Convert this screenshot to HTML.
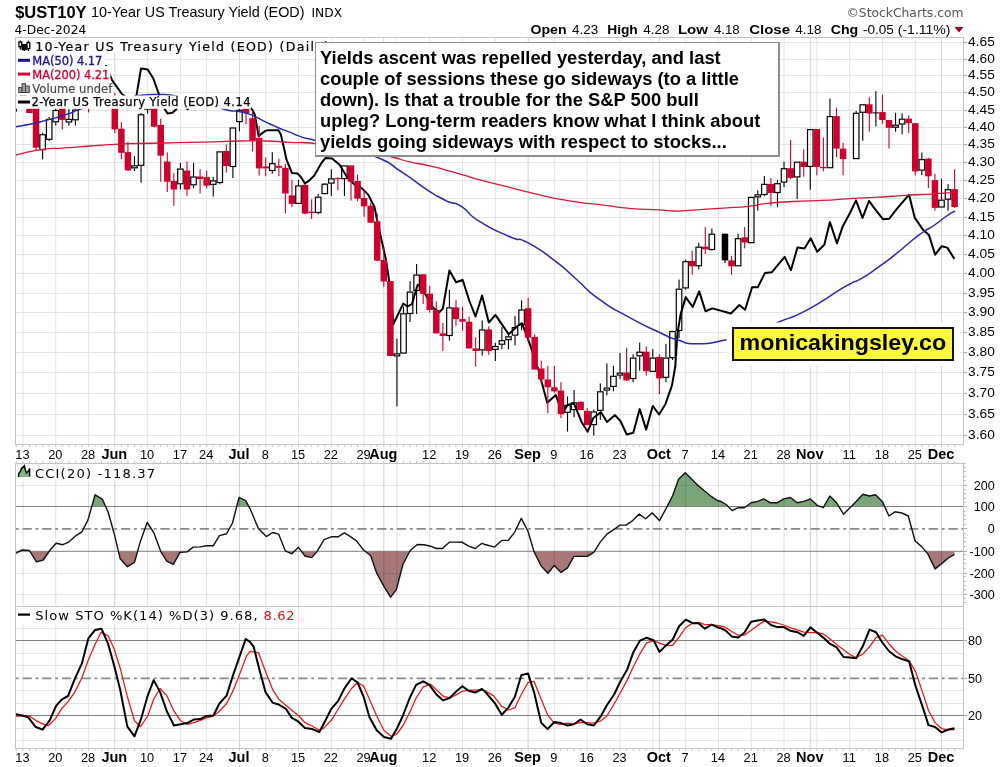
<!DOCTYPE html>
<html><head><meta charset="utf-8"><title>$UST10Y</title>
<style>html,body{margin:0;padding:0;background:#fff;width:1004px;height:767px;overflow:hidden}svg{display:block}</style>
</head><body>
<svg width="1004" height="767" viewBox="0 0 1004 767" shape-rendering="auto">
<defs><clipPath id="mclip"><rect x="16" y="38" width="947" height="406"/></clipPath></defs>
<rect width="1004" height="767" fill="#fff"/>
<text x="15.2" y="17.5" font-family="Liberation Sans, Arial, sans-serif" font-weight="bold" font-size="17.4" textLength="71.4" lengthAdjust="spacingAndGlyphs">$UST10Y</text>
<text x="91" y="16.9" font-family="Liberation Sans, Arial, sans-serif" font-size="15" textLength="213.5" lengthAdjust="spacingAndGlyphs">10-Year US Treasury Yield (EOD)</text>
<text x="311.5" y="17.3" font-family="DejaVu Sans, sans-serif" font-size="11.5" textLength="30.5" lengthAdjust="spacingAndGlyphs">INDX</text>
<text x="14.5" y="34.2" font-family="DejaVu Sans, sans-serif" font-size="12.8" textLength="71.8" lengthAdjust="spacingAndGlyphs">4-Dec-2024</text>
<text x="846.5" y="17.1" font-family="DejaVu Sans, sans-serif" font-size="12.6" fill="#555" textLength="117" lengthAdjust="spacingAndGlyphs">©StockCharts.com</text>
<text x="530.5" y="33.8" font-family="Liberation Sans, Arial, sans-serif" font-size="13.6" font-weight="bold" textLength="36.1" lengthAdjust="spacingAndGlyphs">Open</text>
<text x="572.1" y="33.8" font-family="Liberation Sans, Arial, sans-serif" font-size="13.6" textLength="26.3" lengthAdjust="spacingAndGlyphs">4.23</text>
<text x="607.2" y="33.8" font-family="Liberation Sans, Arial, sans-serif" font-size="13.6" font-weight="bold" textLength="30.6" lengthAdjust="spacingAndGlyphs">High</text>
<text x="643.3" y="33.8" font-family="Liberation Sans, Arial, sans-serif" font-size="13.6" textLength="26.3" lengthAdjust="spacingAndGlyphs">4.28</text>
<text x="677.9" y="33.8" font-family="Liberation Sans, Arial, sans-serif" font-size="13.6" font-weight="bold" textLength="30.1" lengthAdjust="spacingAndGlyphs">Low</text>
<text x="713.9" y="33.8" font-family="Liberation Sans, Arial, sans-serif" font-size="13.6" textLength="25.8" lengthAdjust="spacingAndGlyphs">4.18</text>
<text x="749.2" y="33.8" font-family="Liberation Sans, Arial, sans-serif" font-size="13.6" font-weight="bold" textLength="40.8" lengthAdjust="spacingAndGlyphs">Close</text>
<text x="795.2" y="33.8" font-family="Liberation Sans, Arial, sans-serif" font-size="13.6" textLength="26.3" lengthAdjust="spacingAndGlyphs">4.18</text>
<text x="830.7" y="33.8" font-family="Liberation Sans, Arial, sans-serif" font-size="13.6" font-weight="bold" textLength="27.6" lengthAdjust="spacingAndGlyphs">Chg</text>
<text x="863" y="33.8" font-family="Liberation Sans, Arial, sans-serif" font-size="13.6" textLength="30.8" lengthAdjust="spacingAndGlyphs">-0.05</text>
<text x="897.8" y="33.8" font-family="Liberation Sans, Arial, sans-serif" font-size="13.6" textLength="52.6" lengthAdjust="spacingAndGlyphs">(-1.11%)</text>
<polygon points="954.5,27 963.5,27 959,32.5" fill="#a0001e"/>
<rect x="15.5" y="37.5" width="948" height="407" fill="#fff" stroke="none"/>
<line x1="15" y1="435.5" x2="963" y2="435.5" stroke="#e4e4e4"/>
<line x1="15" y1="414.5" x2="963" y2="414.5" stroke="#e4e4e4"/>
<line x1="15" y1="393.5" x2="963" y2="393.5" stroke="#e4e4e4"/>
<line x1="15" y1="372.5" x2="963" y2="372.5" stroke="#e4e4e4"/>
<line x1="15" y1="352.5" x2="963" y2="352.5" stroke="#e4e4e4"/>
<line x1="15" y1="332.5" x2="963" y2="332.5" stroke="#e4e4e4"/>
<line x1="15" y1="312.5" x2="963" y2="312.5" stroke="#e4e4e4"/>
<line x1="15" y1="293.5" x2="963" y2="293.5" stroke="#e4e4e4"/>
<line x1="15" y1="273.5" x2="963" y2="273.5" stroke="#e4e4e4"/>
<line x1="15" y1="254.5" x2="963" y2="254.5" stroke="#e4e4e4"/>
<line x1="15" y1="235.5" x2="963" y2="235.5" stroke="#e4e4e4"/>
<line x1="15" y1="217.5" x2="963" y2="217.5" stroke="#e4e4e4"/>
<line x1="15" y1="198.5" x2="963" y2="198.5" stroke="#e4e4e4"/>
<line x1="15" y1="180.5" x2="963" y2="180.5" stroke="#e4e4e4"/>
<line x1="15" y1="162.5" x2="963" y2="162.5" stroke="#e4e4e4"/>
<line x1="15" y1="144.5" x2="963" y2="144.5" stroke="#e4e4e4"/>
<line x1="15" y1="127.5" x2="963" y2="127.5" stroke="#e4e4e4"/>
<line x1="15" y1="110.5" x2="963" y2="110.5" stroke="#e4e4e4"/>
<line x1="15" y1="92.5" x2="963" y2="92.5" stroke="#e4e4e4"/>
<line x1="15" y1="75.5" x2="963" y2="75.5" stroke="#e4e4e4"/>
<line x1="15" y1="59.5" x2="963" y2="59.5" stroke="#e4e4e4"/>
<line x1="15" y1="42.5" x2="963" y2="42.5" stroke="#e4e4e4"/>
<line x1="22.95" y1="37" x2="22.95" y2="444" stroke="#e4e4e4"/><line x1="55.75" y1="37" x2="55.75" y2="444" stroke="#e4e4e4"/><line x1="88.56" y1="37" x2="88.56" y2="444" stroke="#e4e4e4"/><line x1="114.8" y1="37" x2="114.8" y2="444" stroke="#d6d6d6"/><line x1="147.61" y1="37" x2="147.61" y2="444" stroke="#e4e4e4"/><line x1="180.41" y1="37" x2="180.41" y2="444" stroke="#e4e4e4"/><line x1="206.66" y1="37" x2="206.66" y2="444" stroke="#e4e4e4"/><line x1="239.46" y1="37" x2="239.46" y2="444" stroke="#d6d6d6"/><line x1="265.71" y1="37" x2="265.71" y2="444" stroke="#e4e4e4"/><line x1="298.51" y1="37" x2="298.51" y2="444" stroke="#e4e4e4"/><line x1="331.32" y1="37" x2="331.32" y2="444" stroke="#e4e4e4"/><line x1="364.12" y1="37" x2="364.12" y2="444" stroke="#e4e4e4"/><line x1="383.81" y1="37" x2="383.81" y2="444" stroke="#d6d6d6"/><line x1="396.93" y1="37" x2="396.93" y2="444" stroke="#e4e4e4"/><line x1="429.73" y1="37" x2="429.73" y2="444" stroke="#e4e4e4"/><line x1="462.54" y1="37" x2="462.54" y2="444" stroke="#e4e4e4"/><line x1="495.34" y1="37" x2="495.34" y2="444" stroke="#e4e4e4"/><line x1="528.15" y1="37" x2="528.15" y2="444" stroke="#d6d6d6"/><line x1="554.39" y1="37" x2="554.39" y2="444" stroke="#e4e4e4"/><line x1="587.2" y1="37" x2="587.2" y2="444" stroke="#e4e4e4"/><line x1="620.0" y1="37" x2="620.0" y2="444" stroke="#e4e4e4"/><line x1="652.81" y1="37" x2="652.81" y2="444" stroke="#e4e4e4"/><line x1="659.37" y1="37" x2="659.37" y2="444" stroke="#d6d6d6"/><line x1="685.61" y1="37" x2="685.61" y2="444" stroke="#e4e4e4"/><line x1="718.42" y1="37" x2="718.42" y2="444" stroke="#e4e4e4"/><line x1="751.22" y1="37" x2="751.22" y2="444" stroke="#e4e4e4"/><line x1="784.03" y1="37" x2="784.03" y2="444" stroke="#e4e4e4"/><line x1="810.27" y1="37" x2="810.27" y2="444" stroke="#d6d6d6"/><line x1="816.83" y1="37" x2="816.83" y2="444" stroke="#e4e4e4"/><line x1="849.64" y1="37" x2="849.64" y2="444" stroke="#e4e4e4"/><line x1="882.44" y1="37" x2="882.44" y2="444" stroke="#e4e4e4"/><line x1="915.25" y1="37" x2="915.25" y2="444" stroke="#e4e4e4"/><line x1="941.49" y1="37" x2="941.49" y2="444" stroke="#d6d6d6"/>
<g clip-path="url(#mclip)">
<polyline points="15.0,88.0 40.0,82.0 60.0,78.0 80.0,72.0 95.0,68.0 106.0,66.0 112.0,80.0 122.0,94.1 130.0,100.0 136.5,95.3 141.0,68.4 147.7,69.5 153.3,78.5 158.9,94.1 160.0,100.0 164.5,108.7 167.5,113.6 172.5,112.8 176.5,109.0 180.0,104.0 185.0,106.5 187.5,109.3 190.0,106.0 200.0,103.0 212.0,100.0 225.0,102.0 240.0,105.0 249.3,106.8 252.4,109.9 254.8,114.8 258.6,135.9 265.4,130.9 267.9,130.3 278.4,130.3 280.9,134.6 284.6,150.7 286.4,159.4 292.0,173.0 297.6,173.6 300.7,176.7 305.0,183.5 309.3,180.4 314.3,175.5 321.7,162.5 325.4,158.1 332.1,158.5 339.6,164.7 347.1,177.2 354.5,184.6 362.0,188.4 368.2,194.6 374.5,207.0 376.8,218.5 380.4,235.0 386.0,260.0 390.5,290.0 393.4,324.0 403.2,303.6 407.5,306.5 412.0,304.0 417.6,284.7 421.0,287.0 433.5,308.2 439.5,312.0 442.8,308.8 449.4,270.5 456.1,282.2 462.7,280.0 469.4,301.0 475.5,316.5 482.1,295.5 488.8,322.6 495.4,314.9 502.6,325.4 508.7,334.3 511.0,332.1 517.6,326.0 522.0,323.2 530.0,344.6 538.6,370.4 547.2,402.7 555.8,395.1 562.3,413.4 567.7,404.8 574.1,403.7 581.6,422.0 587.7,431.7 593.5,417.7 601.0,412.3 607.0,422.0 615.0,415.1 620.4,421.0 626.8,434.5 633.3,432.8 639.7,409.1 646.2,429.6 652.7,405.9 659.1,414.5 665.6,403.7 672.0,385.4 675.3,366.1 677.4,333.8 680.6,314.4 685.7,297.1 692.7,307.0 699.2,291.4 705.5,311.2 712.5,308.4 730.9,313.5 739.4,305.0 745.1,309.8 752.1,287.2 757.8,287.2 764.9,273.1 771.9,272.2 784.7,256.9 790.9,270.2 797.4,247.6 804.5,248.4 810.7,238.3 817.2,251.8 824.3,244.8 829.9,222.1 837.0,243.4 842.7,226.4 849.7,213.6 856.0,200.4 862.5,217.9 869.0,200.9 875.2,209.4 883.1,219.3 889.3,218.7 896.4,209.4 909.1,194.7 914.8,217.9 923.3,230.1 928.9,234.9 935.2,254.7 941.7,246.2 947.3,247.6 954.4,258.9" fill="none" stroke="#000" stroke-width="2" stroke-linejoin="round"/>
<rect x="15.84" y="95" width="1.1" height="5.0" fill="#000"/><rect x="15.84" y="105.0" width="1.1" height="6.7" fill="#000"/><rect x="13.64" y="100.5" width="5.5" height="4.0" fill="none" stroke="#000" stroke-width="1.2"/><rect x="22.40" y="92" width="1.1" height="3.0" fill="#000"/><rect x="22.40" y="105.0" width="1.1" height="3.0" fill="#000"/><rect x="20.20" y="95.5" width="5.5" height="9.0" fill="none" stroke="#000" stroke-width="1.2"/><rect x="28.96" y="98" width="1.1" height="15.0" fill="#cd002d"/><rect x="26.26" y="100" width="6.5" height="13.0" fill="#cd002d"/><rect x="35.52" y="100" width="1.1" height="50.2" fill="#cd002d"/><rect x="32.82" y="104" width="6.5" height="43.6" fill="#cd002d"/><rect x="42.08" y="132.6" width="1.1" height="1.6" fill="#000"/><rect x="42.08" y="150.2" width="1.1" height="9.1" fill="#000"/><rect x="39.88" y="134.7" width="5.5" height="15.0" fill="none" stroke="#000" stroke-width="1.2"/><rect x="48.64" y="117" width="1.1" height="1.9" fill="#000"/><rect x="48.64" y="139.8" width="1.1" height="1.2" fill="#000"/><rect x="46.44" y="119.4" width="5.5" height="19.9" fill="none" stroke="#000" stroke-width="1.2"/><rect x="55.20" y="108" width="1.1" height="2.0" fill="#000"/><rect x="55.20" y="122.3" width="1.1" height="3.2" fill="#000"/><rect x="53.00" y="110.5" width="5.5" height="11.3" fill="none" stroke="#000" stroke-width="1.2"/><rect x="61.77" y="105" width="1.1" height="24.5" fill="#cd002d"/><rect x="59.07" y="108" width="6.5" height="11.9" fill="#cd002d"/><rect x="68.33" y="109.2" width="1.1" height="9.7" fill="#000"/><rect x="68.33" y="122.5" width="1.1" height="3.2" fill="#000"/><rect x="66.13" y="119.4" width="5.5" height="2.6" fill="none" stroke="#000" stroke-width="1.2"/><rect x="74.89" y="106" width="1.1" height="3.6" fill="#000"/><rect x="74.89" y="120.3" width="1.1" height="5.2" fill="#000"/><rect x="72.69" y="110.1" width="5.5" height="9.7" fill="none" stroke="#000" stroke-width="1.2"/><rect x="81.45" y="98" width="1.1" height="2.0" fill="#000"/><rect x="81.45" y="106.0" width="1.1" height="1.0" fill="#000"/><rect x="79.25" y="100.5" width="5.5" height="5.0" fill="none" stroke="#000" stroke-width="1.2"/><rect x="88.01" y="98" width="1.1" height="14.4" fill="#cd002d"/><rect x="85.31" y="100" width="6.5" height="6.0" fill="#cd002d"/><rect x="94.57" y="96" width="1.1" height="2.0" fill="#000"/><rect x="94.57" y="104.0" width="1.1" height="2.0" fill="#000"/><rect x="92.37" y="98.5" width="5.5" height="5.0" fill="none" stroke="#000" stroke-width="1.2"/><rect x="101.13" y="96" width="1.1" height="10.0" fill="#cd002d"/><rect x="98.43" y="98" width="6.5" height="6.0" fill="#cd002d"/><rect x="107.69" y="97" width="1.1" height="10.0" fill="#cd002d"/><rect x="104.99" y="100" width="6.5" height="5.0" fill="#cd002d"/><rect x="114.25" y="93" width="1.1" height="40.2" fill="#cd002d"/><rect x="111.55" y="104" width="6.5" height="25.3" fill="#cd002d"/><rect x="120.81" y="122.1" width="1.1" height="37.2" fill="#cd002d"/><rect x="118.11" y="128.7" width="6.5" height="24.1" fill="#cd002d"/><rect x="127.38" y="141.7" width="1.1" height="29.3" fill="#cd002d"/><rect x="124.68" y="152.1" width="6.5" height="18.3" fill="#cd002d"/><rect x="133.94" y="156" width="1.1" height="9.3" fill="#000"/><rect x="133.94" y="168.3" width="1.1" height="2.7" fill="#000"/><rect x="131.74" y="165.8" width="5.5" height="2.0" fill="none" stroke="#000" stroke-width="1.2"/><rect x="140.50" y="113" width="1.1" height="1.3" fill="#000"/><rect x="140.50" y="165.8" width="1.1" height="16.9" fill="#000"/><rect x="138.30" y="114.8" width="5.5" height="50.5" fill="none" stroke="#000" stroke-width="1.2"/><rect x="147.06" y="98" width="1.1" height="2.0" fill="#000"/><rect x="147.06" y="109.6" width="1.1" height="4.1" fill="#000"/><rect x="144.86" y="100.5" width="5.5" height="8.6" fill="none" stroke="#000" stroke-width="1.2"/><rect x="153.62" y="100" width="1.1" height="27.4" fill="#cd002d"/><rect x="150.92" y="104" width="6.5" height="22.7" fill="#cd002d"/><rect x="160.18" y="118.5" width="1.1" height="63.2" fill="#cd002d"/><rect x="157.48" y="125" width="6.5" height="30.6" fill="#cd002d"/><rect x="166.74" y="152.3" width="1.1" height="39.7" fill="#cd002d"/><rect x="164.04" y="161.5" width="6.5" height="20.2" fill="#cd002d"/><rect x="173.30" y="173.2" width="1.1" height="32.6" fill="#cd002d"/><rect x="170.60" y="181" width="6.5" height="8.5" fill="#cd002d"/><rect x="179.86" y="162.8" width="1.1" height="5.8" fill="#000"/><rect x="179.86" y="184.3" width="1.1" height="5.2" fill="#000"/><rect x="177.66" y="169.1" width="5.5" height="14.7" fill="none" stroke="#000" stroke-width="1.2"/><rect x="186.42" y="161.5" width="1.1" height="34.5" fill="#cd002d"/><rect x="183.72" y="170.6" width="6.5" height="18.9" fill="#cd002d"/><rect x="192.99" y="162.8" width="1.1" height="13.7" fill="#000"/><rect x="192.99" y="185.3" width="1.1" height="2.9" fill="#000"/><rect x="190.79" y="177.0" width="5.5" height="7.8" fill="none" stroke="#000" stroke-width="1.2"/><rect x="199.55" y="169.3" width="1.1" height="24.1" fill="#cd002d"/><rect x="196.85" y="176.5" width="6.5" height="2.5" fill="#cd002d"/><rect x="206.11" y="170.6" width="1.1" height="17.6" fill="#cd002d"/><rect x="203.41" y="177.1" width="6.5" height="8.5" fill="#cd002d"/><rect x="212.67" y="177" width="1.1" height="3.4" fill="#000"/><rect x="212.67" y="184.9" width="1.1" height="11.7" fill="#000"/><rect x="210.47" y="180.9" width="5.5" height="3.5" fill="none" stroke="#000" stroke-width="1.2"/><rect x="219.23" y="183.0" width="1.1" height="1.3" fill="#000"/><rect x="217.03" y="151.9" width="5.5" height="30.6" fill="none" stroke="#000" stroke-width="1.2"/><rect x="225.79" y="144.5" width="1.1" height="28.0" fill="#cd002d"/><rect x="223.09" y="151" width="6.5" height="15.0" fill="#cd002d"/><rect x="232.35" y="127.4" width="1.1" height="0.1" fill="#000"/><rect x="232.35" y="167.0" width="1.1" height="11.0" fill="#000"/><rect x="230.15" y="128.0" width="5.5" height="38.5" fill="none" stroke="#000" stroke-width="1.2"/><rect x="238.91" y="106" width="1.1" height="3.8" fill="#000"/><rect x="238.91" y="122.1" width="1.1" height="9.2" fill="#000"/><rect x="236.71" y="110.3" width="5.5" height="11.3" fill="none" stroke="#000" stroke-width="1.2"/><rect x="245.47" y="104" width="1.1" height="20.1" fill="#cd002d"/><rect x="242.77" y="107" width="6.5" height="6.0" fill="#cd002d"/><rect x="252.03" y="111" width="1.1" height="40.5" fill="#cd002d"/><rect x="249.33" y="118.2" width="6.5" height="22.2" fill="#cd002d"/><rect x="258.60" y="126" width="1.1" height="49.6" fill="#cd002d"/><rect x="255.90" y="137.8" width="6.5" height="30.6" fill="#cd002d"/><rect x="265.16" y="157.3" width="1.1" height="18.9" fill="#cd002d"/><rect x="262.46" y="166.5" width="6.5" height="1.9" fill="#cd002d"/><rect x="271.72" y="152.1" width="1.1" height="11.1" fill="#000"/><rect x="271.72" y="171.0" width="1.1" height="2.6" fill="#000"/><rect x="269.52" y="163.7" width="5.5" height="6.8" fill="none" stroke="#000" stroke-width="1.2"/><rect x="278.28" y="158.6" width="1.1" height="17.6" fill="#cd002d"/><rect x="275.58" y="165.8" width="6.5" height="2.0" fill="#cd002d"/><rect x="284.84" y="163.8" width="1.1" height="49.8" fill="#cd002d"/><rect x="282.14" y="167.8" width="6.5" height="25.7" fill="#cd002d"/><rect x="291.40" y="179.8" width="1.1" height="27.3" fill="#cd002d"/><rect x="288.70" y="195.4" width="6.5" height="8.5" fill="#cd002d"/><rect x="297.96" y="179.8" width="1.1" height="5.6" fill="#000"/><rect x="295.76" y="185.9" width="5.5" height="17.5" fill="none" stroke="#000" stroke-width="1.2"/><rect x="304.52" y="184" width="1.1" height="30.3" fill="#cd002d"/><rect x="301.82" y="185" width="6.5" height="28.6" fill="#cd002d"/><rect x="311.08" y="199.3" width="1.1" height="19.6" fill="#cd002d"/><rect x="308.38" y="211.7" width="6.5" height="1.3" fill="#cd002d"/><rect x="317.64" y="194.1" width="1.1" height="2.6" fill="#000"/><rect x="317.64" y="213.0" width="1.1" height="1.3" fill="#000"/><rect x="315.44" y="197.2" width="5.5" height="15.3" fill="none" stroke="#000" stroke-width="1.2"/><rect x="324.21" y="183" width="1.1" height="0.7" fill="#000"/><rect x="322.01" y="184.2" width="5.5" height="9.4" fill="none" stroke="#000" stroke-width="1.2"/><rect x="330.77" y="169.3" width="1.1" height="9.1" fill="#000"/><rect x="330.77" y="183.6" width="1.1" height="12.4" fill="#000"/><rect x="328.57" y="178.9" width="5.5" height="4.2" fill="none" stroke="#000" stroke-width="1.2"/><rect x="337.33" y="177.1" width="1.1" height="13.1" fill="#cd002d"/><rect x="334.63" y="178" width="6.5" height="1.1" fill="#cd002d"/><rect x="343.89" y="179.1" width="1.1" height="16.9" fill="#000"/><rect x="341.69" y="165.9" width="5.5" height="12.7" fill="none" stroke="#000" stroke-width="1.2"/><rect x="350.45" y="165.4" width="1.1" height="35.2" fill="#cd002d"/><rect x="347.75" y="165.4" width="6.5" height="16.3" fill="#cd002d"/><rect x="357.01" y="174.5" width="1.1" height="26.7" fill="#cd002d"/><rect x="354.31" y="181" width="6.5" height="17.6" fill="#cd002d"/><rect x="363.57" y="190" width="1.1" height="26.9" fill="#cd002d"/><rect x="360.87" y="198" width="6.5" height="8.4" fill="#cd002d"/><rect x="370.13" y="202.5" width="1.1" height="20.2" fill="#cd002d"/><rect x="367.43" y="205.8" width="6.5" height="16.9" fill="#cd002d"/><rect x="376.69" y="213.6" width="1.1" height="47.4" fill="#cd002d"/><rect x="373.99" y="221.4" width="6.5" height="39.2" fill="#cd002d"/><rect x="383.25" y="247" width="1.1" height="39.7" fill="#cd002d"/><rect x="380.56" y="260" width="6.5" height="21.5" fill="#cd002d"/><rect x="389.82" y="281" width="1.1" height="75.0" fill="#cd002d"/><rect x="387.12" y="281" width="6.5" height="75.0" fill="#cd002d"/><rect x="396.38" y="338.7" width="1.1" height="14.7" fill="#000"/><rect x="396.38" y="356.4" width="1.1" height="50.0" fill="#000"/><rect x="394.18" y="353.9" width="5.5" height="2.0" fill="none" stroke="#000" stroke-width="1.2"/><rect x="402.94" y="306.5" width="1.1" height="6.8" fill="#000"/><rect x="400.74" y="313.8" width="5.5" height="39.3" fill="none" stroke="#000" stroke-width="1.2"/><rect x="409.50" y="281.1" width="1.1" height="10.5" fill="#000"/><rect x="409.50" y="314.0" width="1.1" height="8.0" fill="#000"/><rect x="407.30" y="292.1" width="5.5" height="21.4" fill="none" stroke="#000" stroke-width="1.2"/><rect x="416.06" y="264" width="1.1" height="10.6" fill="#000"/><rect x="416.06" y="291.0" width="1.1" height="23.0" fill="#000"/><rect x="413.86" y="275.1" width="5.5" height="15.4" fill="none" stroke="#000" stroke-width="1.2"/><rect x="422.62" y="274.3" width="1.1" height="29.8" fill="#cd002d"/><rect x="419.92" y="274.3" width="6.5" height="19.5" fill="#cd002d"/><rect x="429.18" y="285.9" width="1.1" height="26.7" fill="#cd002d"/><rect x="426.48" y="293.7" width="6.5" height="16.3" fill="#cd002d"/><rect x="435.74" y="301.5" width="1.1" height="31.9" fill="#cd002d"/><rect x="433.04" y="310" width="6.5" height="23.4" fill="#cd002d"/><rect x="442.30" y="323" width="1.1" height="28.0" fill="#cd002d"/><rect x="439.60" y="333.4" width="6.5" height="2.6" fill="#cd002d"/><rect x="448.86" y="289.8" width="1.1" height="17.6" fill="#000"/><rect x="448.86" y="336.0" width="1.1" height="4.6" fill="#000"/><rect x="446.66" y="307.9" width="5.5" height="27.6" fill="none" stroke="#000" stroke-width="1.2"/><rect x="455.43" y="300.2" width="1.1" height="25.4" fill="#cd002d"/><rect x="452.73" y="307.4" width="6.5" height="11.7" fill="#cd002d"/><rect x="461.99" y="306.7" width="1.1" height="24.1" fill="#cd002d"/><rect x="459.29" y="319.1" width="6.5" height="2.6" fill="#cd002d"/><rect x="468.55" y="316.5" width="1.1" height="31.9" fill="#cd002d"/><rect x="465.85" y="321.7" width="6.5" height="26.7" fill="#cd002d"/><rect x="475.11" y="337.3" width="1.1" height="29.3" fill="#cd002d"/><rect x="472.41" y="348.4" width="6.5" height="2.6" fill="#cd002d"/><rect x="481.67" y="320.4" width="1.1" height="9.1" fill="#000"/><rect x="481.67" y="350.4" width="1.1" height="5.2" fill="#000"/><rect x="479.47" y="330.0" width="5.5" height="19.9" fill="none" stroke="#000" stroke-width="1.2"/><rect x="488.23" y="326.3" width="1.1" height="28.6" fill="#cd002d"/><rect x="485.53" y="329.5" width="6.5" height="21.5" fill="#cd002d"/><rect x="494.79" y="342.8" width="1.1" height="3.2" fill="#000"/><rect x="494.79" y="349.9" width="1.1" height="11.1" fill="#000"/><rect x="492.59" y="346.5" width="5.5" height="2.9" fill="none" stroke="#000" stroke-width="1.2"/><rect x="501.35" y="327.1" width="1.1" height="13.1" fill="#000"/><rect x="501.35" y="344.7" width="1.1" height="4.6" fill="#000"/><rect x="499.15" y="340.7" width="5.5" height="3.5" fill="none" stroke="#000" stroke-width="1.2"/><rect x="507.91" y="333" width="1.1" height="3.3" fill="#000"/><rect x="507.91" y="340.2" width="1.1" height="9.1" fill="#000"/><rect x="505.71" y="336.8" width="5.5" height="2.9" fill="none" stroke="#000" stroke-width="1.2"/><rect x="514.48" y="316" width="1.1" height="11.1" fill="#000"/><rect x="514.48" y="335.6" width="1.1" height="9.8" fill="#000"/><rect x="512.27" y="327.6" width="5.5" height="7.5" fill="none" stroke="#000" stroke-width="1.2"/><rect x="521.04" y="300.4" width="1.1" height="9.1" fill="#000"/><rect x="521.04" y="325.2" width="1.1" height="5.2" fill="#000"/><rect x="518.84" y="310.0" width="5.5" height="14.7" fill="none" stroke="#000" stroke-width="1.2"/><rect x="527.60" y="297.8" width="1.1" height="43.7" fill="#cd002d"/><rect x="524.90" y="308.2" width="6.5" height="29.4" fill="#cd002d"/><rect x="534.16" y="334.3" width="1.1" height="35.2" fill="#cd002d"/><rect x="531.46" y="336.9" width="6.5" height="32.6" fill="#cd002d"/><rect x="540.72" y="360.6" width="1.1" height="22.8" fill="#cd002d"/><rect x="538.02" y="368.5" width="6.5" height="11.0" fill="#cd002d"/><rect x="547.28" y="365.8" width="1.1" height="47.6" fill="#cd002d"/><rect x="544.58" y="379.5" width="6.5" height="7.8" fill="#cd002d"/><rect x="553.84" y="365.8" width="1.1" height="26.8" fill="#cd002d"/><rect x="551.14" y="387.3" width="6.5" height="4.0" fill="#cd002d"/><rect x="560.40" y="382.1" width="1.1" height="35.9" fill="#cd002d"/><rect x="557.70" y="390.6" width="6.5" height="23.5" fill="#cd002d"/><rect x="566.96" y="396.5" width="1.1" height="8.4" fill="#000"/><rect x="566.96" y="412.8" width="1.1" height="18.8" fill="#000"/><rect x="564.76" y="405.4" width="5.5" height="6.9" fill="none" stroke="#000" stroke-width="1.2"/><rect x="573.52" y="390" width="1.1" height="12.3" fill="#000"/><rect x="573.52" y="410.1" width="1.1" height="7.2" fill="#000"/><rect x="571.32" y="402.8" width="5.5" height="6.8" fill="none" stroke="#000" stroke-width="1.2"/><rect x="580.09" y="401.7" width="1.1" height="8.4" fill="#cd002d"/><rect x="577.38" y="401.7" width="6.5" height="8.4" fill="#cd002d"/><rect x="586.65" y="408.2" width="1.1" height="16.9" fill="#cd002d"/><rect x="583.95" y="410.8" width="6.5" height="14.3" fill="#cd002d"/><rect x="593.21" y="409.5" width="1.1" height="2.0" fill="#000"/><rect x="593.21" y="425.1" width="1.1" height="10.5" fill="#000"/><rect x="591.01" y="412.0" width="5.5" height="12.6" fill="none" stroke="#000" stroke-width="1.2"/><rect x="599.77" y="383.4" width="1.1" height="7.9" fill="#000"/><rect x="599.77" y="410.8" width="1.1" height="9.1" fill="#000"/><rect x="597.57" y="391.8" width="5.5" height="18.5" fill="none" stroke="#000" stroke-width="1.2"/><rect x="606.33" y="363.4" width="1.1" height="24.2" fill="#000"/><rect x="606.33" y="390.6" width="1.1" height="4.7" fill="#000"/><rect x="604.13" y="388.1" width="5.5" height="2.0" fill="none" stroke="#000" stroke-width="1.2"/><rect x="612.89" y="366" width="1.1" height="9.8" fill="#000"/><rect x="612.89" y="386.9" width="1.1" height="4.5" fill="#000"/><rect x="610.69" y="376.3" width="5.5" height="10.1" fill="none" stroke="#000" stroke-width="1.2"/><rect x="619.45" y="353" width="1.1" height="19.6" fill="#000"/><rect x="619.45" y="375.6" width="1.1" height="3.4" fill="#000"/><rect x="617.25" y="373.1" width="5.5" height="2.0" fill="none" stroke="#000" stroke-width="1.2"/><rect x="626.01" y="347.8" width="1.1" height="33.2" fill="#cd002d"/><rect x="623.31" y="372.5" width="6.5" height="7.9" fill="#cd002d"/><rect x="632.57" y="354.3" width="1.1" height="3.3" fill="#000"/><rect x="632.57" y="379.0" width="1.1" height="3.3" fill="#000"/><rect x="630.37" y="358.1" width="5.5" height="20.4" fill="none" stroke="#000" stroke-width="1.2"/><rect x="639.13" y="342.6" width="1.1" height="9.1" fill="#000"/><rect x="639.13" y="356.3" width="1.1" height="14.3" fill="#000"/><rect x="636.93" y="352.2" width="5.5" height="3.6" fill="none" stroke="#000" stroke-width="1.2"/><rect x="645.70" y="346.5" width="1.1" height="29.3" fill="#cd002d"/><rect x="643.00" y="351.7" width="6.5" height="19.5" fill="#cd002d"/><rect x="652.26" y="349.1" width="1.1" height="8.5" fill="#000"/><rect x="650.06" y="358.1" width="5.5" height="13.3" fill="none" stroke="#000" stroke-width="1.2"/><rect x="658.82" y="354.3" width="1.1" height="39.7" fill="#cd002d"/><rect x="656.12" y="356.9" width="6.5" height="21.5" fill="#cd002d"/><rect x="665.38" y="343.9" width="1.1" height="13.7" fill="#000"/><rect x="665.38" y="377.8" width="1.1" height="4.5" fill="#000"/><rect x="663.18" y="358.1" width="5.5" height="19.2" fill="none" stroke="#000" stroke-width="1.2"/><rect x="671.94" y="330.8" width="1.1" height="0.2" fill="#000"/><rect x="671.94" y="358.2" width="1.1" height="1.8" fill="#000"/><rect x="669.74" y="331.5" width="5.5" height="26.2" fill="none" stroke="#000" stroke-width="1.2"/><rect x="678.50" y="279.5" width="1.1" height="9.2" fill="#000"/><rect x="678.50" y="331.0" width="1.1" height="7.2" fill="#000"/><rect x="676.30" y="289.2" width="5.5" height="41.3" fill="none" stroke="#000" stroke-width="1.2"/><rect x="685.06" y="259.7" width="1.1" height="1.5" fill="#000"/><rect x="685.06" y="288.4" width="1.1" height="1.3" fill="#000"/><rect x="682.86" y="261.7" width="5.5" height="26.2" fill="none" stroke="#000" stroke-width="1.2"/><rect x="691.62" y="250.6" width="1.1" height="24.1" fill="#cd002d"/><rect x="688.92" y="261" width="6.5" height="5.3" fill="#cd002d"/><rect x="698.18" y="242.8" width="1.1" height="3.9" fill="#000"/><rect x="698.18" y="266.3" width="1.1" height="3.2" fill="#000"/><rect x="695.98" y="247.2" width="5.5" height="18.6" fill="none" stroke="#000" stroke-width="1.2"/><rect x="704.74" y="227.2" width="1.1" height="26.7" fill="#cd002d"/><rect x="702.04" y="246.7" width="6.5" height="2.6" fill="#cd002d"/><rect x="711.31" y="228.5" width="1.1" height="5.2" fill="#000"/><rect x="711.31" y="250.0" width="1.1" height="0.6" fill="#000"/><rect x="709.11" y="234.2" width="5.5" height="15.3" fill="none" stroke="#000" stroke-width="1.2"/><rect x="724.43" y="233.7" width="1.1" height="29.3" fill="#000"/><rect x="721.73" y="233.7" width="6.5" height="26.7" fill="#000"/><rect x="730.99" y="255.8" width="1.1" height="18.9" fill="#cd002d"/><rect x="728.29" y="260.4" width="6.5" height="5.9" fill="#cd002d"/><rect x="737.55" y="233.7" width="1.1" height="4.5" fill="#000"/><rect x="735.35" y="238.7" width="5.5" height="27.1" fill="none" stroke="#000" stroke-width="1.2"/><rect x="744.11" y="226.9" width="1.1" height="21.5" fill="#cd002d"/><rect x="741.41" y="237.3" width="6.5" height="5.2" fill="#cd002d"/><rect x="748.47" y="197.4" width="5.5" height="45.3" fill="none" stroke="#000" stroke-width="1.2"/><rect x="757.23" y="190.4" width="1.1" height="4.0" fill="#000"/><rect x="757.23" y="197.4" width="1.1" height="13.2" fill="#000"/><rect x="755.03" y="194.9" width="5.5" height="2.0" fill="none" stroke="#000" stroke-width="1.2"/><rect x="763.79" y="176.1" width="1.1" height="7.8" fill="#000"/><rect x="763.79" y="195.0" width="1.1" height="1.3" fill="#000"/><rect x="761.59" y="184.4" width="5.5" height="10.1" fill="none" stroke="#000" stroke-width="1.2"/><rect x="770.35" y="178" width="1.1" height="28.0" fill="#cd002d"/><rect x="767.65" y="183.9" width="6.5" height="9.1" fill="#cd002d"/><rect x="776.92" y="180" width="1.1" height="3.2" fill="#000"/><rect x="776.92" y="193.0" width="1.1" height="14.3" fill="#000"/><rect x="774.72" y="183.7" width="5.5" height="8.8" fill="none" stroke="#000" stroke-width="1.2"/><rect x="783.48" y="161.7" width="1.1" height="6.5" fill="#000"/><rect x="783.48" y="182.6" width="1.1" height="4.5" fill="#000"/><rect x="781.28" y="168.7" width="5.5" height="13.4" fill="none" stroke="#000" stroke-width="1.2"/><rect x="790.04" y="140" width="1.1" height="39.3" fill="#cd002d"/><rect x="787.34" y="168.2" width="6.5" height="9.8" fill="#cd002d"/><rect x="796.60" y="177.4" width="1.1" height="21.5" fill="#000"/><rect x="794.40" y="162.2" width="5.5" height="14.7" fill="none" stroke="#000" stroke-width="1.2"/><rect x="803.16" y="149.3" width="1.1" height="27.4" fill="#cd002d"/><rect x="800.46" y="161.7" width="6.5" height="5.3" fill="#cd002d"/><rect x="809.72" y="166.9" width="1.1" height="22.8" fill="#000"/><rect x="807.52" y="129.6" width="5.5" height="36.8" fill="none" stroke="#000" stroke-width="1.2"/><rect x="816.28" y="129.1" width="1.1" height="46.2" fill="#cd002d"/><rect x="813.58" y="129.1" width="6.5" height="37.8" fill="#cd002d"/><rect x="822.84" y="137.6" width="1.1" height="33.8" fill="#cd002d"/><rect x="820.14" y="166.9" width="6.5" height="1.3" fill="#cd002d"/><rect x="829.40" y="98.5" width="1.1" height="17.6" fill="#000"/><rect x="827.20" y="116.6" width="5.5" height="51.1" fill="none" stroke="#000" stroke-width="1.2"/><rect x="835.96" y="107.6" width="1.1" height="49.5" fill="#cd002d"/><rect x="833.26" y="116.1" width="6.5" height="32.5" fill="#cd002d"/><rect x="842.53" y="142.8" width="1.1" height="32.5" fill="#cd002d"/><rect x="839.83" y="148.6" width="6.5" height="10.5" fill="#cd002d"/><rect x="855.65" y="111" width="1.1" height="1.8" fill="#000"/><rect x="853.45" y="113.3" width="5.5" height="45.3" fill="none" stroke="#000" stroke-width="1.2"/><rect x="862.21" y="112.8" width="1.1" height="28.0" fill="#000"/><rect x="860.01" y="104.8" width="5.5" height="7.5" fill="none" stroke="#000" stroke-width="1.2"/><rect x="868.77" y="97.2" width="1.1" height="34.5" fill="#cd002d"/><rect x="866.07" y="104.3" width="6.5" height="9.2" fill="#cd002d"/><rect x="875.33" y="91.3" width="1.1" height="35.2" fill="#000"/><rect x="872.63" y="112.4" width="6.5" height="1.0" fill="#000"/><rect x="881.89" y="94.6" width="1.1" height="29.3" fill="#cd002d"/><rect x="879.19" y="112.1" width="6.5" height="7.9" fill="#cd002d"/><rect x="888.45" y="120" width="1.1" height="28.6" fill="#cd002d"/><rect x="885.75" y="120" width="6.5" height="7.8" fill="#cd002d"/><rect x="895.01" y="112.8" width="1.1" height="11.9" fill="#000"/><rect x="895.01" y="127.7" width="1.1" height="4.0" fill="#000"/><rect x="892.81" y="125.2" width="5.5" height="2.0" fill="none" stroke="#000" stroke-width="1.2"/><rect x="901.57" y="113.5" width="1.1" height="5.2" fill="#000"/><rect x="901.57" y="124.5" width="1.1" height="9.8" fill="#000"/><rect x="899.37" y="119.2" width="5.5" height="4.8" fill="none" stroke="#000" stroke-width="1.2"/><rect x="908.14" y="115.4" width="1.1" height="17.6" fill="#cd002d"/><rect x="905.44" y="118.7" width="6.5" height="4.5" fill="#cd002d"/><rect x="914.70" y="123.2" width="1.1" height="52.2" fill="#cd002d"/><rect x="912.00" y="123.2" width="6.5" height="48.2" fill="#cd002d"/><rect x="921.26" y="152.4" width="1.1" height="6.7" fill="#000"/><rect x="921.26" y="170.6" width="1.1" height="4.4" fill="#000"/><rect x="919.06" y="159.6" width="5.5" height="10.5" fill="none" stroke="#000" stroke-width="1.2"/><rect x="927.82" y="157.8" width="1.1" height="30.2" fill="#cd002d"/><rect x="925.12" y="158.6" width="6.5" height="17.7" fill="#cd002d"/><rect x="934.38" y="173.7" width="1.1" height="37.0" fill="#cd002d"/><rect x="931.68" y="180.1" width="6.5" height="27.8" fill="#cd002d"/><rect x="940.94" y="178.7" width="1.1" height="21.0" fill="#000"/><rect x="938.74" y="200.2" width="5.5" height="6.8" fill="none" stroke="#000" stroke-width="1.2"/><rect x="947.50" y="184.2" width="1.1" height="5.0" fill="#000"/><rect x="947.50" y="199.7" width="1.1" height="11.0" fill="#000"/><rect x="945.30" y="189.7" width="5.5" height="9.5" fill="none" stroke="#000" stroke-width="1.2"/><rect x="954.06" y="169.2" width="1.1" height="38.7" fill="#cd002d"/><rect x="951.36" y="189.2" width="6.5" height="17.8" fill="#cd002d"/>
<path d="M15.0,155.2C23.3,153.4 23.3,152.3 39.9,149.8C56.5,147.3 48.2,149.1 64.8,147.8C81.4,146.5 73.1,147.2 89.7,146.0C106.3,144.8 98.0,145.1 114.6,144.3C131.2,143.5 122.9,143.9 139.5,143.5C156.1,143.1 147.8,143.4 164.4,143.0C181.0,142.6 172.7,142.7 189.3,142.3C205.9,141.9 197.6,142.2 214.2,141.8C230.8,141.4 222.2,141.3 239.1,141.0C256.0,140.7 248.0,140.6 264.9,141.0C281.8,141.4 273.2,141.5 289.8,142.3C306.4,143.1 296.3,141.6 314.7,143.5C333.1,145.4 323.4,144.3 345.0,148.0C366.6,151.7 363.1,151.3 379.4,154.5C395.7,157.7 383.7,155.0 393.9,157.5C404.1,160.0 397.9,159.1 409.9,161.9C421.9,164.7 416.5,162.8 429.8,165.9C443.1,169.0 438.1,167.9 449.7,171.1C461.3,174.3 454.6,172.5 464.7,175.4C474.8,178.3 464.9,175.9 479.9,179.9C494.9,183.9 489.9,182.4 509.8,187.4C529.7,192.4 519.7,190.3 539.6,194.8C559.5,199.3 547.6,197.3 569.5,200.8C591.4,204.3 585.5,202.8 605.4,205.3C625.3,207.8 611.4,206.8 629.3,208.3C647.2,209.8 644.3,208.9 659.2,209.8C674.1,210.7 664.2,210.8 674.1,211.0C684.0,211.2 674.1,211.3 689.0,210.4C703.9,209.5 699.0,209.7 718.9,208.3C738.8,206.9 733.5,207.8 748.8,206.3C764.1,204.8 750.1,205.3 764.9,203.7C779.7,202.1 774.4,202.6 793.2,201.5C812.0,200.4 802.6,201.3 821.4,200.4C840.2,199.5 830.8,199.8 849.7,198.7C868.6,197.6 859.1,198.3 878.0,197.2C896.9,196.1 887.4,196.4 906.3,195.3C925.2,194.2 918.4,194.8 934.6,193.8C950.8,192.8 948.2,192.9 955.0,192.4" fill="none" stroke="#d8163c" stroke-width="1.3"/>
<path d="M15.0,126.9C23.3,125.2 23.3,125.9 39.9,121.9C56.5,117.9 51.5,119.1 64.8,114.9C78.1,110.7 68.0,113.5 79.7,109.4C91.4,105.3 86.6,106.1 100.0,102.5C113.4,98.9 108.3,100.4 120.0,98.5C131.7,96.6 127.7,97.9 135.0,96.8C142.3,95.7 134.7,95.9 142.0,95.2C149.3,94.5 147.3,94.6 157.0,94.6C166.7,94.6 162.9,94.2 171.2,95.2C179.5,96.2 172.4,95.4 182.0,97.5C191.6,99.6 185.7,97.5 200.0,101.5C214.3,105.5 211.7,106.1 225.0,109.5C238.3,112.9 230.9,109.7 240.0,111.7C249.1,113.7 244.1,112.1 252.4,115.4C260.7,118.7 256.6,117.7 264.8,121.6C273.0,125.5 268.9,123.7 277.1,127.2C285.3,130.7 281.2,128.8 289.5,132.1C297.8,135.4 293.6,134.4 301.9,137.1C310.2,139.8 299.9,136.4 314.3,140.2C328.7,144.0 324.1,142.8 345.0,148.5C365.9,154.2 358.0,149.3 377.0,157.2C396.0,165.1 385.3,161.4 401.9,172.2C418.5,183.0 413.5,180.8 426.8,189.6C440.1,198.4 434.2,194.3 441.9,198.5C449.6,202.7 443.3,199.5 450.0,202.3C456.7,205.1 452.0,200.3 462.0,206.8C472.0,213.3 464.0,211.7 479.9,221.7C495.8,231.7 493.9,229.7 509.8,236.7C525.7,243.7 512.8,234.7 527.7,242.7C542.6,250.7 538.7,248.7 554.6,260.6C570.5,272.5 560.6,265.6 575.5,278.5C590.4,291.4 581.5,286.4 599.4,299.4C617.3,312.4 609.4,306.4 629.3,317.4C649.2,328.4 643.3,324.8 659.2,332.3C675.1,339.8 664.2,336.0 677.1,339.8C690.0,343.6 681.9,343.6 698.0,343.7C714.1,343.8 708.0,343.1 725.3,340.0C742.6,336.9 735.8,338.3 750.0,334.5C764.2,330.7 758.3,332.7 768.0,328.5C777.7,324.3 765.9,328.2 779.0,322.0C792.1,315.8 785.6,321.4 807.3,309.8C829.0,298.2 826.2,297.6 844.1,287.2C862.0,276.8 849.7,285.3 861.0,278.7C872.3,272.1 866.7,275.4 878.0,267.4C889.3,259.4 883.7,263.7 895.0,254.7C906.3,245.7 902.6,248.1 912.0,240.5C921.4,232.9 915.8,237.2 923.3,232.0C930.8,226.8 927.1,230.2 934.6,225.0C942.1,219.8 939.1,221.2 945.9,216.5C952.7,211.8 952.0,212.7 955.0,210.8" fill="none" stroke="#2828aa" stroke-width="1.5"/>
</g>
<rect x="16" y="38" width="300" height="14" fill="#fff"/>
<rect x="16" y="52" width="89" height="14" fill="#fff"/>
<rect x="16" y="66" width="94.5" height="14" fill="#fff"/>
<rect x="16" y="80" width="94" height="15.5" fill="#fff"/>
<rect x="16" y="95.5" width="235" height="13.3" fill="#fff"/>
<g stroke="#000" stroke-width="1.3" fill="none"><line x1="20.3" y1="40.6" x2="20.3" y2="49.6"/><rect x="18.9" y="42" width="2.8" height="4.6" fill="#fff"/><line x1="24.3" y1="44" x2="24.3" y2="51"/><rect x="22.2" y="44.6" width="4" height="5" fill="#000"/><line x1="28.4" y1="40.7" x2="28.4" y2="51"/><rect x="27" y="42.6" width="2.8" height="6" fill="#fff"/></g>
<text x="35.3" y="51" font-family="DejaVu Sans, Verdana, sans-serif" font-size="12.6" stroke="#000" stroke-width="0.2" textLength="293.5" lengthAdjust="spacing">10-Year US Treasury Yield (EOD) (Daily)</text>
<rect x="18" y="58.8" width="12" height="3" fill="#14148c"/>
<text x="32.3" y="65.2" font-family="DejaVu Sans, Verdana, sans-serif" font-size="11.5" fill="#14148f" stroke="#14148f" stroke-width="0.3" textLength="70" lengthAdjust="spacing">MA(50) 4.17</text>
<rect x="18" y="72.6" width="12" height="3" fill="#d40030"/>
<text x="32.3" y="79" font-family="DejaVu Sans, Verdana, sans-serif" font-size="11.5" fill="#d40030" stroke="#d40030" stroke-width="0.3" textLength="77" lengthAdjust="spacing">MA(200) 4.21</text>
<g fill="#a0a0a0" stroke="#444" stroke-width="1"><rect x="18.7" y="87.5" width="3.4" height="5"/><rect x="22.1" y="83.7" width="3.4" height="8.8"/><rect x="25.5" y="86" width="3.8" height="6.5"/></g>
<text x="32.3" y="92.6" font-family="DejaVu Sans, Verdana, sans-serif" font-size="11.5" fill="#4a4a4a" stroke="#4a4a4a" stroke-width="0.2" textLength="80" lengthAdjust="spacing">Volume undef</text>
<rect x="18" y="100.5" width="12" height="3" fill="#000"/>
<text x="31.5" y="106.3" font-family="DejaVu Sans, Verdana, sans-serif" font-size="11.5" stroke="#000" stroke-width="0.25" textLength="219" lengthAdjust="spacing">2-Year US Treasury Yield (EOD) 4.14</text>
<rect x="15.5" y="37.5" width="948" height="407" fill="none" stroke="#c4c4c4"/>
<line x1="964" y1="435.5" x2="967" y2="435.5" stroke="#aaa"/>
<text x="994.8" y="438.8" text-anchor="end" font-family="Liberation Sans, Arial, sans-serif" font-size="12.6" textLength="26.7" lengthAdjust="spacingAndGlyphs">3.60</text>
<line x1="964" y1="414.5" x2="967" y2="414.5" stroke="#aaa"/>
<text x="994.8" y="417.8" text-anchor="end" font-family="Liberation Sans, Arial, sans-serif" font-size="12.6" textLength="26.7" lengthAdjust="spacingAndGlyphs">3.65</text>
<line x1="964" y1="393.5" x2="967" y2="393.5" stroke="#aaa"/>
<text x="994.8" y="396.8" text-anchor="end" font-family="Liberation Sans, Arial, sans-serif" font-size="12.6" textLength="26.7" lengthAdjust="spacingAndGlyphs">3.70</text>
<line x1="964" y1="372.5" x2="967" y2="372.5" stroke="#aaa"/>
<text x="994.8" y="375.8" text-anchor="end" font-family="Liberation Sans, Arial, sans-serif" font-size="12.6" textLength="26.7" lengthAdjust="spacingAndGlyphs">3.75</text>
<line x1="964" y1="352.5" x2="967" y2="352.5" stroke="#aaa"/>
<text x="994.8" y="355.8" text-anchor="end" font-family="Liberation Sans, Arial, sans-serif" font-size="12.6" textLength="26.7" lengthAdjust="spacingAndGlyphs">3.80</text>
<line x1="964" y1="332.5" x2="967" y2="332.5" stroke="#aaa"/>
<text x="994.8" y="335.8" text-anchor="end" font-family="Liberation Sans, Arial, sans-serif" font-size="12.6" textLength="26.7" lengthAdjust="spacingAndGlyphs">3.85</text>
<line x1="964" y1="312.5" x2="967" y2="312.5" stroke="#aaa"/>
<text x="994.8" y="315.8" text-anchor="end" font-family="Liberation Sans, Arial, sans-serif" font-size="12.6" textLength="26.7" lengthAdjust="spacingAndGlyphs">3.90</text>
<line x1="964" y1="293.5" x2="967" y2="293.5" stroke="#aaa"/>
<text x="994.8" y="296.8" text-anchor="end" font-family="Liberation Sans, Arial, sans-serif" font-size="12.6" textLength="26.7" lengthAdjust="spacingAndGlyphs">3.95</text>
<line x1="964" y1="273.5" x2="967" y2="273.5" stroke="#aaa"/>
<text x="994.8" y="276.8" text-anchor="end" font-family="Liberation Sans, Arial, sans-serif" font-size="12.6" textLength="26.7" lengthAdjust="spacingAndGlyphs">4.00</text>
<line x1="964" y1="254.5" x2="967" y2="254.5" stroke="#aaa"/>
<text x="994.8" y="257.8" text-anchor="end" font-family="Liberation Sans, Arial, sans-serif" font-size="12.6" textLength="26.7" lengthAdjust="spacingAndGlyphs">4.05</text>
<line x1="964" y1="235.5" x2="967" y2="235.5" stroke="#aaa"/>
<text x="994.8" y="238.8" text-anchor="end" font-family="Liberation Sans, Arial, sans-serif" font-size="12.6" textLength="26.7" lengthAdjust="spacingAndGlyphs">4.10</text>
<line x1="964" y1="217.5" x2="967" y2="217.5" stroke="#aaa"/>
<text x="994.8" y="220.8" text-anchor="end" font-family="Liberation Sans, Arial, sans-serif" font-size="12.6" textLength="26.7" lengthAdjust="spacingAndGlyphs">4.15</text>
<line x1="964" y1="198.5" x2="967" y2="198.5" stroke="#aaa"/>
<text x="994.8" y="201.8" text-anchor="end" font-family="Liberation Sans, Arial, sans-serif" font-size="12.6" textLength="26.7" lengthAdjust="spacingAndGlyphs">4.20</text>
<line x1="964" y1="180.5" x2="967" y2="180.5" stroke="#aaa"/>
<text x="994.8" y="183.8" text-anchor="end" font-family="Liberation Sans, Arial, sans-serif" font-size="12.6" textLength="26.7" lengthAdjust="spacingAndGlyphs">4.25</text>
<line x1="964" y1="162.5" x2="967" y2="162.5" stroke="#aaa"/>
<text x="994.8" y="165.8" text-anchor="end" font-family="Liberation Sans, Arial, sans-serif" font-size="12.6" textLength="26.7" lengthAdjust="spacingAndGlyphs">4.30</text>
<line x1="964" y1="144.5" x2="967" y2="144.5" stroke="#aaa"/>
<text x="994.8" y="147.8" text-anchor="end" font-family="Liberation Sans, Arial, sans-serif" font-size="12.6" textLength="26.7" lengthAdjust="spacingAndGlyphs">4.35</text>
<line x1="964" y1="127.5" x2="967" y2="127.5" stroke="#aaa"/>
<text x="994.8" y="130.8" text-anchor="end" font-family="Liberation Sans, Arial, sans-serif" font-size="12.6" textLength="26.7" lengthAdjust="spacingAndGlyphs">4.40</text>
<line x1="964" y1="110.5" x2="967" y2="110.5" stroke="#aaa"/>
<text x="994.8" y="113.8" text-anchor="end" font-family="Liberation Sans, Arial, sans-serif" font-size="12.6" textLength="26.7" lengthAdjust="spacingAndGlyphs">4.45</text>
<line x1="964" y1="92.5" x2="967" y2="92.5" stroke="#aaa"/>
<text x="994.8" y="95.8" text-anchor="end" font-family="Liberation Sans, Arial, sans-serif" font-size="12.6" textLength="26.7" lengthAdjust="spacingAndGlyphs">4.50</text>
<line x1="964" y1="75.5" x2="967" y2="75.5" stroke="#aaa"/>
<text x="994.8" y="78.8" text-anchor="end" font-family="Liberation Sans, Arial, sans-serif" font-size="12.6" textLength="26.7" lengthAdjust="spacingAndGlyphs">4.55</text>
<line x1="964" y1="59.5" x2="967" y2="59.5" stroke="#aaa"/>
<text x="994.8" y="62.8" text-anchor="end" font-family="Liberation Sans, Arial, sans-serif" font-size="12.6" textLength="26.7" lengthAdjust="spacingAndGlyphs">4.60</text>
<line x1="964" y1="42.5" x2="967" y2="42.5" stroke="#aaa"/>
<text x="994.8" y="45.8" text-anchor="end" font-family="Liberation Sans, Arial, sans-serif" font-size="12.6" textLength="26.7" lengthAdjust="spacingAndGlyphs">4.65</text>
<path d="M16.39,445V447M22.95,445V447M29.51,445V447M36.07,445V447M42.63,445V447M49.19,445V447M55.75,445V447M62.32,445V447M68.88,445V447M75.44,445V447M82.0,445V447M88.56,445V447M95.12,445V447M101.68,445V447M108.24,445V447M114.8,445V447M121.36,445V447M127.93,445V447M134.49,445V447M141.05,445V447M147.61,445V447M154.17,445V447M160.73,445V447M167.29,445V447M173.85,445V447M180.41,445V447M186.97,445V447M193.54,445V447M200.1,445V447M206.66,445V447M213.22,445V447M219.78,445V447M226.34,445V447M232.9,445V447M239.46,445V447M246.02,445V447M252.58,445V447M259.15,445V447M265.71,445V447M272.27,445V447M278.83,445V447M285.39,445V447M291.95,445V447M298.51,445V447M305.07,445V447M311.63,445V447M318.19,445V447M324.76,445V447M331.32,445V447M337.88,445V447M344.44,445V447M351.0,445V447M357.56,445V447M364.12,445V447M370.68,445V447M377.24,445V447M383.81,445V447M390.37,445V447M396.93,445V447M403.49,445V447M410.05,445V447M416.61,445V447M423.17,445V447M429.73,445V447M436.29,445V447M442.85,445V447M449.41,445V447M455.98,445V447M462.54,445V447M469.1,445V447M475.66,445V447M482.22,445V447M488.78,445V447M495.34,445V447M501.9,445V447M508.46,445V447M515.02,445V447M521.59,445V447M528.15,445V447M534.71,445V447M541.27,445V447M547.83,445V447M554.39,445V447M560.95,445V447M567.51,445V447M574.07,445V447M580.63,445V447M587.2,445V447M593.76,445V447M600.32,445V447M606.88,445V447M613.44,445V447M620.0,445V447M626.56,445V447M633.12,445V447M639.68,445V447M646.25,445V447M652.81,445V447M659.37,445V447M665.93,445V447M672.49,445V447M679.05,445V447M685.61,445V447M692.17,445V447M698.73,445V447M705.29,445V447M711.86,445V447M718.42,445V447M724.98,445V447M731.54,445V447M738.1,445V447M744.66,445V447M751.22,445V447M757.78,445V447M764.34,445V447M770.9,445V447M777.47,445V447M784.03,445V447M790.59,445V447M797.15,445V447M803.71,445V447M810.27,445V447M816.83,445V447M823.39,445V447M829.95,445V447M836.51,445V447M843.08,445V447M849.64,445V447M856.2,445V447M862.76,445V447M869.32,445V447M875.88,445V447M882.44,445V447M889.0,445V447M895.56,445V447M902.12,445V447M908.69,445V447M915.25,445V447M921.81,445V447M928.37,445V447M934.93,445V447M941.49,445V447M948.05,445V447M954.61,445V447" stroke="#c8c8c8" fill="none"/>
<path d="M16.39,461V463M22.95,461V463M29.51,461V463M36.07,461V463M42.63,461V463M49.19,461V463M55.75,461V463M62.32,461V463M68.88,461V463M75.44,461V463M82.0,461V463M88.56,461V463M95.12,461V463M101.68,461V463M108.24,461V463M114.8,461V463M121.36,461V463M127.93,461V463M134.49,461V463M141.05,461V463M147.61,461V463M154.17,461V463M160.73,461V463M167.29,461V463M173.85,461V463M180.41,461V463M186.97,461V463M193.54,461V463M200.1,461V463M206.66,461V463M213.22,461V463M219.78,461V463M226.34,461V463M232.9,461V463M239.46,461V463M246.02,461V463M252.58,461V463M259.15,461V463M265.71,461V463M272.27,461V463M278.83,461V463M285.39,461V463M291.95,461V463M298.51,461V463M305.07,461V463M311.63,461V463M318.19,461V463M324.76,461V463M331.32,461V463M337.88,461V463M344.44,461V463M351.0,461V463M357.56,461V463M364.12,461V463M370.68,461V463M377.24,461V463M383.81,461V463M390.37,461V463M396.93,461V463M403.49,461V463M410.05,461V463M416.61,461V463M423.17,461V463M429.73,461V463M436.29,461V463M442.85,461V463M449.41,461V463M455.98,461V463M462.54,461V463M469.1,461V463M475.66,461V463M482.22,461V463M488.78,461V463M495.34,461V463M501.9,461V463M508.46,461V463M515.02,461V463M521.59,461V463M528.15,461V463M534.71,461V463M541.27,461V463M547.83,461V463M554.39,461V463M560.95,461V463M567.51,461V463M574.07,461V463M580.63,461V463M587.2,461V463M593.76,461V463M600.32,461V463M606.88,461V463M613.44,461V463M620.0,461V463M626.56,461V463M633.12,461V463M639.68,461V463M646.25,461V463M652.81,461V463M659.37,461V463M665.93,461V463M672.49,461V463M679.05,461V463M685.61,461V463M692.17,461V463M698.73,461V463M705.29,461V463M711.86,461V463M718.42,461V463M724.98,461V463M731.54,461V463M738.1,461V463M744.66,461V463M751.22,461V463M757.78,461V463M764.34,461V463M770.9,461V463M777.47,461V463M784.03,461V463M790.59,461V463M797.15,461V463M803.71,461V463M810.27,461V463M816.83,461V463M823.39,461V463M829.95,461V463M836.51,461V463M843.08,461V463M849.64,461V463M856.2,461V463M862.76,461V463M869.32,461V463M875.88,461V463M882.44,461V463M889.0,461V463M895.56,461V463M902.12,461V463M908.69,461V463M915.25,461V463M921.81,461V463M928.37,461V463M934.93,461V463M941.49,461V463M948.05,461V463M954.61,461V463" stroke="#c8c8c8" fill="none"/>
<path d="M16.39,749V751M22.95,749V751M29.51,749V751M36.07,749V751M42.63,749V751M49.19,749V751M55.75,749V751M62.32,749V751M68.88,749V751M75.44,749V751M82.0,749V751M88.56,749V751M95.12,749V751M101.68,749V751M108.24,749V751M114.8,749V751M121.36,749V751M127.93,749V751M134.49,749V751M141.05,749V751M147.61,749V751M154.17,749V751M160.73,749V751M167.29,749V751M173.85,749V751M180.41,749V751M186.97,749V751M193.54,749V751M200.1,749V751M206.66,749V751M213.22,749V751M219.78,749V751M226.34,749V751M232.9,749V751M239.46,749V751M246.02,749V751M252.58,749V751M259.15,749V751M265.71,749V751M272.27,749V751M278.83,749V751M285.39,749V751M291.95,749V751M298.51,749V751M305.07,749V751M311.63,749V751M318.19,749V751M324.76,749V751M331.32,749V751M337.88,749V751M344.44,749V751M351.0,749V751M357.56,749V751M364.12,749V751M370.68,749V751M377.24,749V751M383.81,749V751M390.37,749V751M396.93,749V751M403.49,749V751M410.05,749V751M416.61,749V751M423.17,749V751M429.73,749V751M436.29,749V751M442.85,749V751M449.41,749V751M455.98,749V751M462.54,749V751M469.1,749V751M475.66,749V751M482.22,749V751M488.78,749V751M495.34,749V751M501.9,749V751M508.46,749V751M515.02,749V751M521.59,749V751M528.15,749V751M534.71,749V751M541.27,749V751M547.83,749V751M554.39,749V751M560.95,749V751M567.51,749V751M574.07,749V751M580.63,749V751M587.2,749V751M593.76,749V751M600.32,749V751M606.88,749V751M613.44,749V751M620.0,749V751M626.56,749V751M633.12,749V751M639.68,749V751M646.25,749V751M652.81,749V751M659.37,749V751M665.93,749V751M672.49,749V751M679.05,749V751M685.61,749V751M692.17,749V751M698.73,749V751M705.29,749V751M711.86,749V751M718.42,749V751M724.98,749V751M731.54,749V751M738.1,749V751M744.66,749V751M751.22,749V751M757.78,749V751M764.34,749V751M770.9,749V751M777.47,749V751M784.03,749V751M790.59,749V751M797.15,749V751M803.71,749V751M810.27,749V751M816.83,749V751M823.39,749V751M829.95,749V751M836.51,749V751M843.08,749V751M849.64,749V751M856.2,749V751M862.76,749V751M869.32,749V751M875.88,749V751M882.44,749V751M889.0,749V751M895.56,749V751M902.12,749V751M908.69,749V751M915.25,749V751M921.81,749V751M928.37,749V751M934.93,749V751M941.49,749V751M948.05,749V751M954.61,749V751" stroke="#c8c8c8" fill="none"/>
<path d="M22.95,765.5V767M55.75,765.5V767M88.56,765.5V767M114.8,765.5V767M147.61,765.5V767M180.41,765.5V767M206.66,765.5V767M239.46,765.5V767M265.71,765.5V767M298.51,765.5V767M331.32,765.5V767M364.12,765.5V767M383.81,765.5V767M396.93,765.5V767M429.73,765.5V767M462.54,765.5V767M495.34,765.5V767M528.15,765.5V767M554.39,765.5V767M587.2,765.5V767M620.0,765.5V767M652.81,765.5V767M659.37,765.5V767M685.61,765.5V767M718.42,765.5V767M751.22,765.5V767M784.03,765.5V767M810.27,765.5V767M816.83,765.5V767M849.64,765.5V767M882.44,765.5V767M915.25,765.5V767M941.49,765.5V767" stroke="#c8c8c8" fill="none"/>
<text x="22.45" y="459.4" text-anchor="middle" font-family="Liberation Sans, Arial, sans-serif" font-size="12.8">13</text><text x="55.25" y="459.4" text-anchor="middle" font-family="Liberation Sans, Arial, sans-serif" font-size="12.8">20</text><text x="88.06" y="459.4" text-anchor="middle" font-family="Liberation Sans, Arial, sans-serif" font-size="12.8">28</text><text x="114.3" y="459.4" text-anchor="middle" font-family="Liberation Sans, Arial, sans-serif" font-weight="bold" font-size="14.5">Jun</text><text x="147.11" y="459.4" text-anchor="middle" font-family="Liberation Sans, Arial, sans-serif" font-size="12.8">10</text><text x="179.91" y="459.4" text-anchor="middle" font-family="Liberation Sans, Arial, sans-serif" font-size="12.8">17</text><text x="206.16" y="459.4" text-anchor="middle" font-family="Liberation Sans, Arial, sans-serif" font-size="12.8">24</text><text x="238.96" y="459.4" text-anchor="middle" font-family="Liberation Sans, Arial, sans-serif" font-weight="bold" font-size="14.5">Jul</text><text x="265.21" y="459.4" text-anchor="middle" font-family="Liberation Sans, Arial, sans-serif" font-size="12.8">8</text><text x="298.01" y="459.4" text-anchor="middle" font-family="Liberation Sans, Arial, sans-serif" font-size="12.8">15</text><text x="330.82" y="459.4" text-anchor="middle" font-family="Liberation Sans, Arial, sans-serif" font-size="12.8">22</text><text x="363.62" y="459.4" text-anchor="middle" font-family="Liberation Sans, Arial, sans-serif" font-size="12.8">29</text><text x="383.31" y="459.4" text-anchor="middle" font-family="Liberation Sans, Arial, sans-serif" font-weight="bold" font-size="14.5">Aug</text><text x="429.23" y="459.4" text-anchor="middle" font-family="Liberation Sans, Arial, sans-serif" font-size="12.8">12</text><text x="462.04" y="459.4" text-anchor="middle" font-family="Liberation Sans, Arial, sans-serif" font-size="12.8">19</text><text x="494.84" y="459.4" text-anchor="middle" font-family="Liberation Sans, Arial, sans-serif" font-size="12.8">26</text><text x="527.65" y="459.4" text-anchor="middle" font-family="Liberation Sans, Arial, sans-serif" font-weight="bold" font-size="14.5">Sep</text><text x="553.89" y="459.4" text-anchor="middle" font-family="Liberation Sans, Arial, sans-serif" font-size="12.8">9</text><text x="586.7" y="459.4" text-anchor="middle" font-family="Liberation Sans, Arial, sans-serif" font-size="12.8">16</text><text x="619.5" y="459.4" text-anchor="middle" font-family="Liberation Sans, Arial, sans-serif" font-size="12.8">23</text><text x="658.87" y="459.4" text-anchor="middle" font-family="Liberation Sans, Arial, sans-serif" font-weight="bold" font-size="14.5">Oct</text><text x="685.11" y="459.4" text-anchor="middle" font-family="Liberation Sans, Arial, sans-serif" font-size="12.8">7</text><text x="717.92" y="459.4" text-anchor="middle" font-family="Liberation Sans, Arial, sans-serif" font-size="12.8">14</text><text x="750.72" y="459.4" text-anchor="middle" font-family="Liberation Sans, Arial, sans-serif" font-size="12.8">21</text><text x="783.53" y="459.4" text-anchor="middle" font-family="Liberation Sans, Arial, sans-serif" font-size="12.8">28</text><text x="809.77" y="459.4" text-anchor="middle" font-family="Liberation Sans, Arial, sans-serif" font-weight="bold" font-size="14.5">Nov</text><text x="849.14" y="459.4" text-anchor="middle" font-family="Liberation Sans, Arial, sans-serif" font-size="12.8">11</text><text x="881.94" y="459.4" text-anchor="middle" font-family="Liberation Sans, Arial, sans-serif" font-size="12.8">18</text><text x="914.75" y="459.4" text-anchor="middle" font-family="Liberation Sans, Arial, sans-serif" font-size="12.8">25</text><text x="940.99" y="459.4" text-anchor="middle" font-family="Liberation Sans, Arial, sans-serif" font-weight="bold" font-size="14.5">Dec</text>
<text x="22.45" y="761.7" text-anchor="middle" font-family="Liberation Sans, Arial, sans-serif" font-size="12.8">13</text><text x="55.25" y="761.7" text-anchor="middle" font-family="Liberation Sans, Arial, sans-serif" font-size="12.8">20</text><text x="88.06" y="761.7" text-anchor="middle" font-family="Liberation Sans, Arial, sans-serif" font-size="12.8">28</text><text x="114.3" y="761.7" text-anchor="middle" font-family="Liberation Sans, Arial, sans-serif" font-weight="bold" font-size="14.5">Jun</text><text x="147.11" y="761.7" text-anchor="middle" font-family="Liberation Sans, Arial, sans-serif" font-size="12.8">10</text><text x="179.91" y="761.7" text-anchor="middle" font-family="Liberation Sans, Arial, sans-serif" font-size="12.8">17</text><text x="206.16" y="761.7" text-anchor="middle" font-family="Liberation Sans, Arial, sans-serif" font-size="12.8">24</text><text x="238.96" y="761.7" text-anchor="middle" font-family="Liberation Sans, Arial, sans-serif" font-weight="bold" font-size="14.5">Jul</text><text x="265.21" y="761.7" text-anchor="middle" font-family="Liberation Sans, Arial, sans-serif" font-size="12.8">8</text><text x="298.01" y="761.7" text-anchor="middle" font-family="Liberation Sans, Arial, sans-serif" font-size="12.8">15</text><text x="330.82" y="761.7" text-anchor="middle" font-family="Liberation Sans, Arial, sans-serif" font-size="12.8">22</text><text x="363.62" y="761.7" text-anchor="middle" font-family="Liberation Sans, Arial, sans-serif" font-size="12.8">29</text><text x="383.31" y="761.7" text-anchor="middle" font-family="Liberation Sans, Arial, sans-serif" font-weight="bold" font-size="14.5">Aug</text><text x="429.23" y="761.7" text-anchor="middle" font-family="Liberation Sans, Arial, sans-serif" font-size="12.8">12</text><text x="462.04" y="761.7" text-anchor="middle" font-family="Liberation Sans, Arial, sans-serif" font-size="12.8">19</text><text x="494.84" y="761.7" text-anchor="middle" font-family="Liberation Sans, Arial, sans-serif" font-size="12.8">26</text><text x="527.65" y="761.7" text-anchor="middle" font-family="Liberation Sans, Arial, sans-serif" font-weight="bold" font-size="14.5">Sep</text><text x="553.89" y="761.7" text-anchor="middle" font-family="Liberation Sans, Arial, sans-serif" font-size="12.8">9</text><text x="586.7" y="761.7" text-anchor="middle" font-family="Liberation Sans, Arial, sans-serif" font-size="12.8">16</text><text x="619.5" y="761.7" text-anchor="middle" font-family="Liberation Sans, Arial, sans-serif" font-size="12.8">23</text><text x="658.87" y="761.7" text-anchor="middle" font-family="Liberation Sans, Arial, sans-serif" font-weight="bold" font-size="14.5">Oct</text><text x="685.11" y="761.7" text-anchor="middle" font-family="Liberation Sans, Arial, sans-serif" font-size="12.8">7</text><text x="717.92" y="761.7" text-anchor="middle" font-family="Liberation Sans, Arial, sans-serif" font-size="12.8">14</text><text x="750.72" y="761.7" text-anchor="middle" font-family="Liberation Sans, Arial, sans-serif" font-size="12.8">21</text><text x="783.53" y="761.7" text-anchor="middle" font-family="Liberation Sans, Arial, sans-serif" font-size="12.8">28</text><text x="809.77" y="761.7" text-anchor="middle" font-family="Liberation Sans, Arial, sans-serif" font-weight="bold" font-size="14.5">Nov</text><text x="849.14" y="761.7" text-anchor="middle" font-family="Liberation Sans, Arial, sans-serif" font-size="12.8">11</text><text x="881.94" y="761.7" text-anchor="middle" font-family="Liberation Sans, Arial, sans-serif" font-size="12.8">18</text><text x="914.75" y="761.7" text-anchor="middle" font-family="Liberation Sans, Arial, sans-serif" font-size="12.8">25</text><text x="940.99" y="761.7" text-anchor="middle" font-family="Liberation Sans, Arial, sans-serif" font-weight="bold" font-size="14.5">Dec</text>
<polygon points="91.8,506.5 95.1,494.8 102.3,499.1 105.6,506.5" fill="#79a579"/>
<polygon points="236.7,506.5 239.0,497.4 245.7,500.7 248.9,506.5" fill="#79a579"/>
<polygon points="667.2,506.5 672.7,495.5 678.6,479.2 685.3,472.8 691.8,479.2 698.5,485.9 704.9,491.2 711.6,496.7 718.1,501.0 720.0,500.9 726.1,504.5 728.1,506.5" fill="#79a579"/>
<polygon points="746.0,506.5 751.1,502.8 757.7,501.4 763.7,498.9 770.5,502.8 777.1,502.8 783.7,498.9 790.5,497.5 797.3,502.8 803.8,501.4 810.4,498.9 817.2,505.3 820.2,506.5" fill="#79a579"/>
<polygon points="824.0,506.5 829.8,496.0 836.6,502.8 838.8,506.5" fill="#79a579"/>
<polygon points="851.2,506.5 856.1,501.4 862.9,494.3 869.5,496.0 875.5,494.8 882.3,501.4 884.6,506.5" fill="#79a579"/>
<polygon points="15.0,553.6 19.6,551.3" fill="#a87878"/>
<polygon points="29.8,551.3 36.5,561.9 43.2,560.0 49.2,551.3" fill="#a87878"/>
<polygon points="118.4,551.3 120.2,558.8 127.4,566.7 134.5,562.4 137.6,551.3" fill="#a87878"/>
<polygon points="160.7,551.3 160.8,551.6 166.8,561.2 173.3,564.3 180.0,552.4 187.1,551.9 187.9,551.3" fill="#a87878"/>
<polygon points="286.3,551.3 291.8,553.8 294.4,551.3" fill="#a87878"/>
<polygon points="301.5,551.3 305.0,556.0 311.7,557.6 316.9,551.6 317.1,551.3" fill="#a87878"/>
<polygon points="365.2,551.3 370.7,555.7 376.7,573.2 383.9,586.3 390.6,597.1 396.3,589.9 403.0,564.3 409.8,551.3" fill="#a87878"/>
<polygon points="533.9,551.3 534.0,551.6 541.2,566.0 547.9,573.2 554.3,565.5 561.0,572.4 567.5,567.9 573.9,556.4 580.6,556.4 587.3,556.4 593.8,552.4 594.5,551.3" fill="#a87878"/>
<polygon points="925.6,551.3 927.8,553.9 935.1,568.9 941.6,563.6 948.4,558.0 954.5,554.3 954.5,551.3" fill="#a87878"/>
<line x1="15" y1="485.5" x2="963" y2="485.5" stroke="rgba(0,0,0,0.105)"/>
<line x1="15" y1="573.5" x2="963" y2="573.5" stroke="rgba(0,0,0,0.105)"/>
<line x1="15" y1="594.5" x2="963" y2="594.5" stroke="rgba(0,0,0,0.105)"/>
<line x1="22.95" y1="463" x2="22.95" y2="606" stroke="rgba(0,0,0,0.125)"/><line x1="55.75" y1="463" x2="55.75" y2="606" stroke="rgba(0,0,0,0.125)"/><line x1="88.56" y1="463" x2="88.56" y2="606" stroke="rgba(0,0,0,0.125)"/><line x1="114.8" y1="463" x2="114.8" y2="606" stroke="rgba(0,0,0,0.19)"/><line x1="147.61" y1="463" x2="147.61" y2="606" stroke="rgba(0,0,0,0.125)"/><line x1="180.41" y1="463" x2="180.41" y2="606" stroke="rgba(0,0,0,0.125)"/><line x1="206.66" y1="463" x2="206.66" y2="606" stroke="rgba(0,0,0,0.125)"/><line x1="239.46" y1="463" x2="239.46" y2="606" stroke="rgba(0,0,0,0.19)"/><line x1="265.71" y1="463" x2="265.71" y2="606" stroke="rgba(0,0,0,0.125)"/><line x1="298.51" y1="463" x2="298.51" y2="606" stroke="rgba(0,0,0,0.125)"/><line x1="331.32" y1="463" x2="331.32" y2="606" stroke="rgba(0,0,0,0.125)"/><line x1="364.12" y1="463" x2="364.12" y2="606" stroke="rgba(0,0,0,0.125)"/><line x1="383.81" y1="463" x2="383.81" y2="606" stroke="rgba(0,0,0,0.19)"/><line x1="396.93" y1="463" x2="396.93" y2="606" stroke="rgba(0,0,0,0.125)"/><line x1="429.73" y1="463" x2="429.73" y2="606" stroke="rgba(0,0,0,0.125)"/><line x1="462.54" y1="463" x2="462.54" y2="606" stroke="rgba(0,0,0,0.125)"/><line x1="495.34" y1="463" x2="495.34" y2="606" stroke="rgba(0,0,0,0.125)"/><line x1="528.15" y1="463" x2="528.15" y2="606" stroke="rgba(0,0,0,0.19)"/><line x1="554.39" y1="463" x2="554.39" y2="606" stroke="rgba(0,0,0,0.125)"/><line x1="587.2" y1="463" x2="587.2" y2="606" stroke="rgba(0,0,0,0.125)"/><line x1="620.0" y1="463" x2="620.0" y2="606" stroke="rgba(0,0,0,0.125)"/><line x1="652.81" y1="463" x2="652.81" y2="606" stroke="rgba(0,0,0,0.125)"/><line x1="659.37" y1="463" x2="659.37" y2="606" stroke="rgba(0,0,0,0.19)"/><line x1="685.61" y1="463" x2="685.61" y2="606" stroke="rgba(0,0,0,0.125)"/><line x1="718.42" y1="463" x2="718.42" y2="606" stroke="rgba(0,0,0,0.125)"/><line x1="751.22" y1="463" x2="751.22" y2="606" stroke="rgba(0,0,0,0.125)"/><line x1="784.03" y1="463" x2="784.03" y2="606" stroke="rgba(0,0,0,0.125)"/><line x1="810.27" y1="463" x2="810.27" y2="606" stroke="rgba(0,0,0,0.19)"/><line x1="816.83" y1="463" x2="816.83" y2="606" stroke="rgba(0,0,0,0.125)"/><line x1="849.64" y1="463" x2="849.64" y2="606" stroke="rgba(0,0,0,0.125)"/><line x1="882.44" y1="463" x2="882.44" y2="606" stroke="rgba(0,0,0,0.125)"/><line x1="915.25" y1="463" x2="915.25" y2="606" stroke="rgba(0,0,0,0.125)"/><line x1="941.49" y1="463" x2="941.49" y2="606" stroke="rgba(0,0,0,0.19)"/>
<line x1="15" y1="506.5" x2="963" y2="506.5" stroke="#808080"/>
<line x1="15" y1="551.3" x2="963" y2="551.3" stroke="#808080"/>
<line x1="16" y1="528.9" x2="963" y2="528.9" stroke="#8a8a8a" stroke-width="1.7" stroke-dasharray="9.3,3.7,2.9,3.8" stroke-dashoffset="13.2"/>
<polyline points="15.0,553.6 22.2,550.0 29.3,550.5 36.5,561.9 43.2,560.0 49.7,550.5 56.1,543.3 62.8,544.7 68.8,542.1 76.0,535.6 81.9,531.8 87.9,520.1 95.1,494.8 102.3,499.1 108.2,512.2 114.2,533.7 120.2,558.8 127.4,566.7 134.5,562.4 140.5,540.9 147.2,522.5 153.7,532.5 160.8,551.6 166.8,561.2 173.3,564.3 180.0,552.4 187.1,551.9 193.1,547.1 200.3,546.9 206.3,545.7 213.4,545.7 219.4,535.6 226.6,533.7 232.5,523.0 239.0,497.4 245.7,500.7 250.0,508.6 258.4,528.5 266.3,536.6 272.7,532.5 278.7,534.2 285.4,550.9 291.8,553.8 298.5,547.3 305.0,556.0 311.7,557.6 316.9,551.6 324.1,539.7 331.3,536.8 338.0,536.8 344.4,532.8 350.4,536.6 356.4,540.9 363.6,550.0 370.7,555.7 376.7,573.2 383.9,586.3 390.6,597.1 396.3,589.9 403.0,564.3 410.2,550.5 417.3,544.5 424.0,544.7 430.5,546.2 436.5,548.5 442.4,548.5 449.6,542.1 456.1,542.1 462.3,542.3 468.7,546.2 475.2,548.5 481.9,543.3 485.0,544.5 494.6,547.1 501.7,540.4 508.4,540.4 514.9,531.8 521.3,518.4 528.0,531.3 534.0,551.6 541.2,566.0 547.9,573.2 554.3,565.5 561.0,572.4 567.5,567.9 573.9,556.4 580.6,556.4 587.3,556.4 593.8,552.4 600.2,542.1 606.9,534.2 614.1,529.4 620.1,525.1 626.0,525.1 632.7,520.6 639.2,514.1 645.6,518.7 652.3,512.9 659.5,520.6 666.7,507.4 672.7,495.5 678.6,479.2 685.3,472.8 691.8,479.2 698.5,485.9 704.9,491.2 711.6,496.7 718.1,501.0 720.0,500.9 726.1,504.5 732.2,510.6 738.2,507.7 744.3,507.7 751.1,502.8 757.7,501.4 763.7,498.9 770.5,502.8 777.1,502.8 783.7,498.9 790.5,497.5 797.3,502.8 803.8,501.4 810.4,498.9 817.2,505.3 823.3,507.7 829.8,496.0 836.6,502.8 843.5,514.2 850.0,507.7 856.1,501.4 862.9,494.3 869.5,496.0 875.5,494.8 882.3,501.4 888.9,516.0 895.0,511.8 901.8,513.0 908.3,516.0 915.1,541.0 921.7,546.6 927.8,553.9 935.1,568.9 941.6,563.6 948.4,558.0 954.5,554.3" fill="none" stroke="#111" stroke-width="1.4" stroke-linejoin="round"/>
<rect x="16" y="464" width="142" height="17" fill="#fff"/>
<polygon points="18.5,477 18.5,473.6 20.4,471.5 21.3,468.6 24.4,465.8 24.9,468.2 25.6,470.5 26.5,472.9 28.1,471.5 29.6,468.6 29.6,477" fill="#82b482"/>
<polyline points="18.6,477 18.6,473.6 20.4,471.5 21.3,468.6 24.4,465.8 24.9,468.2 25.6,470.5 26.5,472.9 28.1,471.5 29.6,468.6 29.6,476.6" fill="none" stroke="#000" stroke-width="1.5"/>
<text x="34.9" y="477.7" font-family="DejaVu Sans, Verdana, sans-serif" font-size="13.1" textLength="120.3" lengthAdjust="spacing">CCI(20) -118.37</text>
<rect x="15.5" y="463.5" width="948" height="143" fill="none" stroke="#c4c4c4"/>
<line x1="964" y1="485.5" x2="967" y2="485.5" stroke="#aaa"/>
<text x="994.8" y="489.9" text-anchor="end" font-family="Liberation Sans, Arial, sans-serif" font-size="12.6">200</text>
<line x1="964" y1="506.5" x2="967" y2="506.5" stroke="#aaa"/>
<text x="994.8" y="510.9" text-anchor="end" font-family="Liberation Sans, Arial, sans-serif" font-size="12.6">100</text>
<line x1="964" y1="528.5" x2="967" y2="528.5" stroke="#aaa"/>
<text x="994.8" y="532.9" text-anchor="end" font-family="Liberation Sans, Arial, sans-serif" font-size="12.6">0</text>
<line x1="964" y1="551.5" x2="967" y2="551.5" stroke="#aaa"/>
<text x="994.8" y="555.9" text-anchor="end" font-family="Liberation Sans, Arial, sans-serif" font-size="12.6">-100</text>
<line x1="964" y1="573.5" x2="967" y2="573.5" stroke="#aaa"/>
<text x="994.8" y="577.9" text-anchor="end" font-family="Liberation Sans, Arial, sans-serif" font-size="12.6">-200</text>
<line x1="964" y1="594.5" x2="967" y2="594.5" stroke="#aaa"/>
<text x="994.8" y="598.9" text-anchor="end" font-family="Liberation Sans, Arial, sans-serif" font-size="12.6">-300</text>
<path d="M964,602.5H965.5M964,598.5H965.5M964,594.5H965.5M964,589.5H965.5M964,585.5H965.5M964,581.5H965.5M964,576.5H965.5M964,573.5H965.5M964,568.5H965.5M964,563.5H965.5M964,559.5H965.5M964,554.5H965.5M964,551.5H965.5M964,546.5H965.5M964,541.5H965.5M964,537.5H965.5M964,533.5H965.5M964,528.5H965.5M964,524.5H965.5M964,519.5H965.5M964,515.5H965.5M964,511.5H965.5M964,506.5H965.5M964,502.5H965.5M964,498.5H965.5M964,493.5H965.5M964,489.5H965.5M964,485.5H965.5M964,480.5H965.5M964,476.5H965.5M964,471.5H965.5M964,467.5H965.5M964,463.5H965.5" stroke="#aaa"/>
<line x1="15" y1="628.5" x2="963" y2="628.5" stroke="#e4e4e4"/>
<line x1="15" y1="653.5" x2="963" y2="653.5" stroke="#e4e4e4"/>
<line x1="15" y1="665.5" x2="963" y2="665.5" stroke="#e4e4e4"/>
<line x1="15" y1="690.5" x2="963" y2="690.5" stroke="#e4e4e4"/>
<line x1="15" y1="703.5" x2="963" y2="703.5" stroke="#e4e4e4"/>
<line x1="15" y1="728.5" x2="963" y2="728.5" stroke="#e4e4e4"/>
<line x1="15" y1="740.5" x2="963" y2="740.5" stroke="#e4e4e4"/>
<line x1="22.95" y1="606" x2="22.95" y2="748" stroke="#e4e4e4"/><line x1="55.75" y1="606" x2="55.75" y2="748" stroke="#e4e4e4"/><line x1="88.56" y1="606" x2="88.56" y2="748" stroke="#e4e4e4"/><line x1="114.8" y1="606" x2="114.8" y2="748" stroke="#d6d6d6"/><line x1="147.61" y1="606" x2="147.61" y2="748" stroke="#e4e4e4"/><line x1="180.41" y1="606" x2="180.41" y2="748" stroke="#e4e4e4"/><line x1="206.66" y1="606" x2="206.66" y2="748" stroke="#e4e4e4"/><line x1="239.46" y1="606" x2="239.46" y2="748" stroke="#d6d6d6"/><line x1="265.71" y1="606" x2="265.71" y2="748" stroke="#e4e4e4"/><line x1="298.51" y1="606" x2="298.51" y2="748" stroke="#e4e4e4"/><line x1="331.32" y1="606" x2="331.32" y2="748" stroke="#e4e4e4"/><line x1="364.12" y1="606" x2="364.12" y2="748" stroke="#e4e4e4"/><line x1="383.81" y1="606" x2="383.81" y2="748" stroke="#d6d6d6"/><line x1="396.93" y1="606" x2="396.93" y2="748" stroke="#e4e4e4"/><line x1="429.73" y1="606" x2="429.73" y2="748" stroke="#e4e4e4"/><line x1="462.54" y1="606" x2="462.54" y2="748" stroke="#e4e4e4"/><line x1="495.34" y1="606" x2="495.34" y2="748" stroke="#e4e4e4"/><line x1="528.15" y1="606" x2="528.15" y2="748" stroke="#d6d6d6"/><line x1="554.39" y1="606" x2="554.39" y2="748" stroke="#e4e4e4"/><line x1="587.2" y1="606" x2="587.2" y2="748" stroke="#e4e4e4"/><line x1="620.0" y1="606" x2="620.0" y2="748" stroke="#e4e4e4"/><line x1="652.81" y1="606" x2="652.81" y2="748" stroke="#e4e4e4"/><line x1="659.37" y1="606" x2="659.37" y2="748" stroke="#d6d6d6"/><line x1="685.61" y1="606" x2="685.61" y2="748" stroke="#e4e4e4"/><line x1="718.42" y1="606" x2="718.42" y2="748" stroke="#e4e4e4"/><line x1="751.22" y1="606" x2="751.22" y2="748" stroke="#e4e4e4"/><line x1="784.03" y1="606" x2="784.03" y2="748" stroke="#e4e4e4"/><line x1="810.27" y1="606" x2="810.27" y2="748" stroke="#d6d6d6"/><line x1="816.83" y1="606" x2="816.83" y2="748" stroke="#e4e4e4"/><line x1="849.64" y1="606" x2="849.64" y2="748" stroke="#e4e4e4"/><line x1="882.44" y1="606" x2="882.44" y2="748" stroke="#e4e4e4"/><line x1="915.25" y1="606" x2="915.25" y2="748" stroke="#e4e4e4"/><line x1="941.49" y1="606" x2="941.49" y2="748" stroke="#d6d6d6"/>
<line x1="15" y1="640.5" x2="963" y2="640.5" stroke="#808080"/>
<line x1="15" y1="715.5" x2="963" y2="715.5" stroke="#808080"/>
<line x1="16" y1="678.4" x2="963" y2="678.4" stroke="#8a8a8a" stroke-width="1.7" stroke-dasharray="9.3,3.7,2.9,3.8" stroke-dashoffset="13.2"/>
<polyline points="15.0,716.0 22.2,716.0 29.3,716.0 36.5,720.8 42.5,723.9 48.5,725.5 55.6,718.4 61.6,708.8 68.1,701.6 74.8,692.1 81.9,677.7 87.9,661.0 95.1,644.2 101.1,632.3 108.2,635.9 114.2,649.0 120.2,668.2 127.4,696.8 134.5,720.8 140.5,726.7 147.7,716.0 153.7,699.2 160.1,688.5 166.8,695.6 174.0,711.2 180.7,720.8 187.1,724.3 193.8,722.7 200.3,720.3 206.3,717.9 213.4,716.0 219.4,711.2 226.6,703.5 233.0,690.9 239.7,674.1 246.4,656.2 250.0,651.4 258.4,652.6 264.3,668.2 272.7,689.7 278.7,699.2 285.9,705.2 293.0,711.2 299.0,716.0 305.0,722.7 312.2,726.0 319.3,730.3 324.1,727.9 331.3,720.3 338.0,709.5 344.4,699.2 351.6,688.5 357.6,682.5 363.6,686.1 369.5,699.2 376.7,716.0 383.9,730.3 391.0,736.3 397.0,733.9 403.0,725.5 409.7,712.4 416.1,698.0 423.3,686.8 430.5,684.2 437.7,690.9 443.6,696.4 449.6,698.0 456.1,694.9 462.3,691.3 468.7,690.1 475.2,690.1 481.9,689.7 485.0,690.9 493.4,695.6 501.7,706.4 508.4,710.0 514.9,707.6 521.3,694.5 528.0,682.5 534.0,681.3 541.2,699.2 547.6,714.8 554.3,723.1 561.0,724.3 567.5,723.1 573.9,723.9 580.6,722.7 587.3,722.7 593.8,723.1 600.2,721.2 606.9,716.0 614.1,704.0 620.1,693.3 627.2,680.1 633.2,667.0 639.9,653.8 646.4,643.1 653.5,640.7 659.5,643.1 666.0,645.4 672.7,645.4 679.1,637.1 685.8,627.5 692.5,623.2 698.5,622.3 704.9,624.6 711.6,624.6 718.1,625.6 720.0,625.9 725.3,627.4 731.7,631.5 738.2,635.2 744.3,635.2 751.1,630.3 757.7,625.4 764.2,621.1 771.0,621.8 777.1,623.0 783.7,625.0 790.5,627.9 797.3,629.8 803.8,632.2 810.4,632.7 817.2,632.7 823.3,633.9 829.8,638.8 836.6,644.4 843.5,649.7 850.0,654.6 856.1,657.5 862.9,654.1 869.5,646.8 876.0,637.6 882.3,635.2 888.9,643.7 895.5,651.0 901.8,655.8 909.1,660.7 915.6,671.6 922.2,691.1 928.5,710.5 935.1,722.6 941.6,728.7 948.4,729.9 954.5,729.5" fill="none" stroke="#f01818" stroke-width="1.3" stroke-linejoin="round"/>
<polyline points="15.0,714.1 22.2,715.5 28.1,717.2 35.3,726.7 42.5,729.6 49.7,720.3 56.1,705.9 61.6,699.7 68.1,695.9 74.8,678.9 81.9,663.4 88.4,638.3 95.1,629.9 101.5,628.7 108.2,644.2 114.2,665.8 120.2,689.7 127.4,726.7 134.5,736.3 141.2,718.4 147.7,695.6 153.7,680.1 160.1,692.1 166.8,711.2 174.0,725.5 180.7,724.3 187.1,723.1 193.8,719.6 200.3,719.1 206.3,716.0 213.4,715.5 219.4,703.5 226.6,695.6 233.0,675.3 239.7,656.2 245.7,639.0 250.0,641.9 253.6,646.6 259.6,670.5 265.5,692.1 272.7,702.8 278.7,704.5 285.9,708.8 291.8,717.9 297.8,721.2 305.0,727.9 312.2,729.1 319.3,732.0 325.3,720.7 331.3,708.8 338.0,701.1 344.4,688.5 351.6,678.2 357.6,682.5 363.6,696.8 369.5,717.2 376.7,730.3 383.9,737.0 391.0,738.7 397.0,728.4 403.0,715.5 409.7,698.0 416.1,684.9 423.3,681.3 429.3,684.9 436.5,694.5 443.2,700.4 449.6,698.0 456.1,691.6 462.3,686.3 468.7,690.9 475.2,692.5 481.9,689.0 485.0,691.6 494.6,702.8 501.7,714.8 508.4,707.6 514.9,696.8 521.3,675.3 528.0,673.4 534.0,692.1 541.2,722.7 547.6,729.1 554.3,722.0 561.0,723.1 567.5,725.5 573.9,724.3 580.6,719.6 587.3,724.3 593.8,725.5 600.2,717.2 606.9,705.2 614.1,694.5 620.1,682.0 627.2,669.4 633.2,652.6 639.9,640.7 646.4,637.8 653.5,640.2 659.5,651.9 666.0,645.4 672.7,639.5 679.1,626.3 685.8,619.6 692.5,623.2 698.5,623.2 704.9,628.7 711.6,624.6 718.1,627.5 720.0,627.9 725.3,630.3 731.7,636.4 738.2,637.6 744.3,632.7 751.1,621.8 757.7,620.6 764.2,619.4 771.0,625.0 777.1,627.1 783.7,627.1 790.5,630.8 797.3,632.2 803.8,635.9 810.4,627.4 817.2,632.7 823.3,637.6 829.8,643.7 836.6,647.3 843.5,657.0 850.0,657.5 856.1,658.2 862.9,646.1 869.5,629.6 876.0,632.2 882.3,642.5 888.9,651.0 895.5,656.3 901.8,659.0 909.1,661.4 915.6,686.2 922.2,705.6 928.5,725.1 935.1,727.0 941.6,732.4 948.4,729.5 954.5,728.2" fill="none" stroke="#000" stroke-width="2" stroke-linejoin="round"/>
<rect x="16" y="607" width="282" height="17" fill="#fff"/>
<rect x="18" y="613.5" width="12" height="2.2" fill="#000"/>
<text x="35.3" y="620.4" font-family="DejaVu Sans, Verdana, sans-serif" font-size="13.1" textLength="222.3" lengthAdjust="spacing">Slow STO %K(14) %D(3) 9.68,</text>
<text x="263.5" y="620.4" font-family="DejaVu Sans, Verdana, sans-serif" font-size="13.1" fill="#e81010" textLength="31" lengthAdjust="spacing">8.62</text>
<rect x="15.5" y="606.5" width="948" height="142" fill="none" stroke="#c4c4c4"/>
<line x1="964" y1="640.5" x2="967" y2="640.5" stroke="#aaa"/>
<text x="968" y="644.9" font-family="Liberation Sans, Arial, sans-serif" font-size="12.6">80</text>
<line x1="964" y1="678.5" x2="967" y2="678.5" stroke="#aaa"/>
<text x="968" y="682.9" font-family="Liberation Sans, Arial, sans-serif" font-size="12.6">50</text>
<line x1="964" y1="715.5" x2="967" y2="715.5" stroke="#aaa"/>
<text x="968" y="719.9" font-family="Liberation Sans, Arial, sans-serif" font-size="12.6">20</text>
<rect x="315" y="42" width="465" height="115" fill="#8e8e8e"/>
<rect x="316" y="43" width="462" height="112" fill="#fff"/>
<text x="320" y="63.9" font-family="Liberation Sans, Arial, sans-serif" font-weight="bold" font-size="18.35">Yields ascent was repelled yesterday, and last</text>
<text x="320" y="84.9" font-family="Liberation Sans, Arial, sans-serif" font-weight="bold" font-size="18.35">couple of sessions these go sideways (to a little</text>
<text x="320" y="105.9" font-family="Liberation Sans, Arial, sans-serif" font-weight="bold" font-size="18.35">down). Is that a trouble for the S&amp;P 500 bull</text>
<text x="320" y="126.9" font-family="Liberation Sans, Arial, sans-serif" font-weight="bold" font-size="18.35">upleg? Long-term readers know what I think about</text>
<text x="320" y="147.9" font-family="Liberation Sans, Arial, sans-serif" font-weight="bold" font-size="18.35">yields going sideways with respect to stocks...</text>
<rect x="726.5" y="322.5" width="233" height="43.5" fill="#fff"/>
<rect x="733" y="328" width="220" height="32" fill="#fbf83e" stroke="#111" stroke-width="2"/>
<text x="739.6" y="350.3" font-family="Liberation Sans, Arial, sans-serif" font-weight="bold" font-size="22" textLength="206.5" lengthAdjust="spacingAndGlyphs">monicakingsley.co</text>
</svg>
</body></html>
